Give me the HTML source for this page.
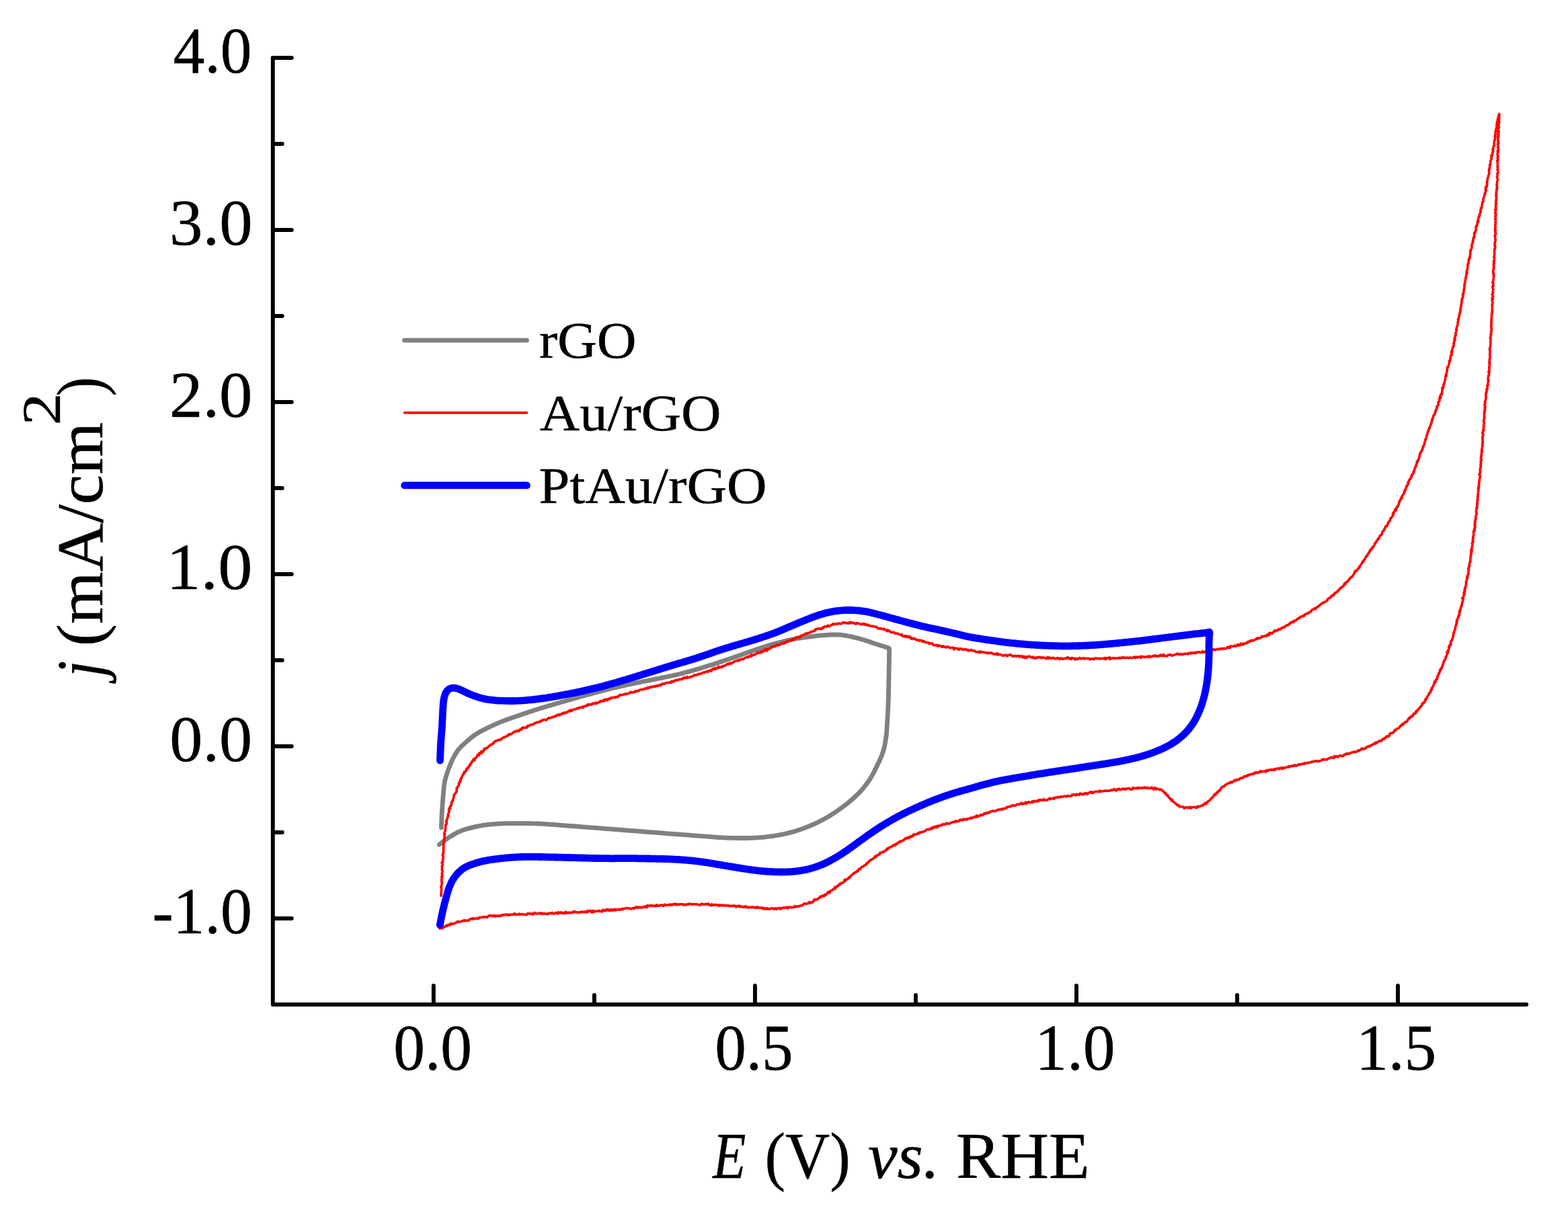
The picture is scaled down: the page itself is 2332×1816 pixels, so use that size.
<!DOCTYPE html>
<html lang="en"><head><meta charset="utf-8"><title>Cyclic voltammograms of rGO, Au/rGO and PtAu/rGO</title>
<style>html,body{margin:0;padding:0;background:#fff}body{width:2332px;height:1816px;overflow:hidden}svg{display:block}text{font-family:'Liberation Serif', 'DejaVu Serif', serif;fill:#000;stroke:#000;stroke-width:0.5;stroke-linejoin:round}</style>
</head><body>
<svg xmlns="http://www.w3.org/2000/svg" width="2332" height="1816" viewBox="0 0 2332 1816" role="img" aria-label="Cyclic voltammograms: current density j versus potential E">
<rect width="2332" height="1816" fill="#fff"/>
<g fill="none" stroke-linecap="round" stroke-linejoin="round">
<path d="M656.4 1230.9L656.5 1228.9L656.5 1226.9L656.6 1224.9L656.7 1222.9L656.7 1220.9L656.8 1218.9L656.9 1216.9L656.9 1214.9L657.0 1212.9L657.1 1210.9L657.3 1208.9L657.4 1206.9L657.5 1204.9L657.6 1202.9L657.8 1200.9L657.9 1198.9L658.1 1196.9L658.2 1194.9L658.4 1192.9L658.5 1190.9L658.7 1188.9L658.8 1186.9L659.0 1184.9L659.2 1182.9L659.4 1180.9L659.5 1178.9L659.7 1177.0L659.9 1175.0L660.0 1173.0L660.2 1171.0L660.5 1169.0L660.7 1167.0L661.0 1165.0L661.3 1163.0L661.7 1161.1L662.2 1159.1L662.7 1157.2L663.3 1155.2L663.8 1153.3L664.5 1151.4L665.1 1149.5L665.8 1147.6L666.4 1145.7L667.1 1143.9L667.8 1142.0L668.5 1140.1L669.3 1138.2L670.0 1136.4L670.8 1134.5L671.6 1132.7L672.5 1130.9L673.3 1129.1L674.2 1127.3L675.1 1125.5L676.1 1123.7L677.1 1122.0L678.1 1120.3L679.2 1118.6L680.3 1116.9L681.5 1115.3L682.8 1113.8L684.1 1112.3L685.5 1110.9L686.9 1109.4L688.4 1108.1L689.9 1106.7L691.3 1105.3L692.8 1104.0L694.3 1102.7L695.8 1101.4L697.4 1100.0L698.9 1098.8L700.4 1097.5L702.0 1096.2L703.6 1095.0L705.2 1093.8L706.9 1092.7L708.5 1091.6L710.2 1090.5L711.9 1089.5L713.7 1088.5L715.4 1087.5L717.2 1086.6L719.0 1085.7L720.8 1084.8L722.6 1083.9L724.4 1083.0L726.2 1082.1L728.0 1081.2L729.8 1080.3L731.6 1079.5L733.4 1078.6L735.2 1077.8L737.0 1077.0L738.9 1076.2L740.7 1075.4L742.6 1074.6L744.4 1073.9L746.3 1073.1L748.2 1072.4L750.0 1071.7L751.9 1071.0L753.8 1070.3L755.7 1069.6L757.6 1069.0L759.5 1068.3L761.4 1067.6L763.3 1067.0L765.1 1066.3L767.0 1065.7L768.9 1065.0L770.8 1064.4L772.7 1063.7L774.6 1063.1L776.5 1062.4L778.4 1061.8L780.3 1061.1L782.2 1060.5L784.1 1059.8L786.0 1059.2L787.9 1058.5L789.8 1057.9L791.7 1057.3L793.6 1056.7L795.5 1056.1L797.4 1055.5L799.3 1054.9L801.3 1054.3L803.2 1053.7L805.1 1053.1L807.0 1052.5L808.9 1051.9L810.9 1051.4L812.8 1050.8L814.7 1050.2L816.6 1049.6L818.5 1049.1L820.5 1048.5L822.4 1048.0L824.3 1047.4L826.2 1046.8L828.2 1046.3L830.1 1045.7L832.0 1045.2L833.9 1044.6L835.9 1044.0L837.8 1043.5L839.7 1042.9L841.6 1042.4L843.5 1041.8L845.5 1041.2L847.4 1040.7L849.3 1040.1L851.2 1039.6L853.2 1039.0L855.1 1038.5L857.0 1037.9L859.0 1037.4L860.9 1036.8L862.8 1036.3L864.8 1035.8L866.7 1035.2L868.6 1034.7L870.6 1034.2L872.5 1033.7L874.4 1033.1L876.4 1032.6L878.3 1032.1L880.2 1031.6L882.2 1031.0L884.1 1030.5L886.0 1030.0L888.0 1029.5L889.9 1028.9L891.8 1028.4L893.8 1027.9L895.7 1027.4L897.6 1026.9L899.6 1026.4L901.5 1025.9L903.5 1025.4L905.4 1024.9L907.4 1024.5L909.3 1024.0L911.3 1023.5L913.2 1023.0L915.2 1022.6L917.1 1022.1L919.1 1021.6L921.0 1021.2L923.0 1020.7L924.9 1020.3L926.9 1019.9L928.8 1019.4L930.8 1019.0L932.7 1018.6L934.7 1018.2L936.7 1017.8L938.6 1017.4L940.6 1017.0L942.6 1016.5L944.5 1016.1L946.5 1015.7L948.4 1015.3L950.4 1014.9L952.4 1014.5L954.3 1014.1L956.3 1013.7L958.3 1013.3L960.2 1012.9L962.2 1012.6L964.2 1012.2L966.1 1011.8L968.1 1011.4L970.1 1011.0L972.0 1010.6L974.0 1010.2L975.9 1009.8L977.9 1009.4L979.9 1009.0L981.8 1008.6L983.8 1008.2L985.8 1007.8L987.7 1007.4L989.7 1007.0L991.7 1006.6L993.6 1006.2L995.6 1005.8L997.5 1005.4L999.5 1005.0L1001.5 1004.6L1003.4 1004.1L1005.4 1003.7L1007.3 1003.3L1009.3 1002.8L1011.2 1002.3L1013.2 1001.9L1015.1 1001.4L1017.1 1000.9L1019.0 1000.3L1020.9 999.8L1022.9 999.3L1024.8 998.8L1026.7 998.2L1028.7 997.7L1030.6 997.1L1032.5 996.6L1034.4 996.0L1036.4 995.5L1038.3 994.9L1040.2 994.3L1042.1 993.8L1044.1 993.2L1046.0 992.6L1047.9 992.0L1049.8 991.4L1051.7 990.8L1053.6 990.2L1055.5 989.6L1057.4 989.0L1059.4 988.4L1061.3 987.8L1063.2 987.2L1065.1 986.5L1067.0 985.9L1068.9 985.3L1070.8 984.7L1072.7 984.0L1074.6 983.4L1076.5 982.8L1078.4 982.1L1080.3 981.5L1082.2 980.9L1084.1 980.2L1086.0 979.6L1087.9 978.9L1089.8 978.3L1091.7 977.6L1093.6 977.0L1095.5 976.3L1097.4 975.7L1099.2 975.0L1101.1 974.3L1103.0 973.7L1104.9 973.0L1106.8 972.3L1108.7 971.6L1110.6 971.0L1112.5 970.3L1114.4 969.7L1116.3 969.0L1118.2 968.3L1120.0 967.7L1121.9 967.0L1123.8 966.4L1125.7 965.7L1127.6 965.1L1129.5 964.4L1131.4 963.8L1133.3 963.2L1135.2 962.5L1137.1 961.9L1139.0 961.3L1141.0 960.7L1142.9 960.1L1144.8 959.5L1146.7 958.9L1148.6 958.4L1150.5 957.8L1152.5 957.2L1154.4 956.7L1156.3 956.2L1158.3 955.7L1160.2 955.2L1162.2 954.7L1164.1 954.2L1166.0 953.7L1168.0 953.3L1170.0 952.8L1171.9 952.4L1173.9 952.0L1175.8 951.6L1177.8 951.2L1179.8 950.8L1181.7 950.4L1183.7 950.1L1185.7 949.7L1187.7 949.4L1189.6 949.1L1191.6 948.7L1193.6 948.4L1195.6 948.2L1197.6 947.9L1199.5 947.6L1201.5 947.3L1203.5 947.1L1205.5 946.8L1207.5 946.6L1209.5 946.3L1211.5 946.1L1213.5 945.8L1215.5 945.6L1217.4 945.4L1219.4 945.2L1221.4 945.0L1223.4 944.9L1225.4 944.7L1227.4 944.6L1229.4 944.5L1231.4 944.3L1233.4 944.2L1235.4 944.1L1237.4 944.0L1239.4 944.0L1241.4 943.9L1243.5 944.0L1245.5 944.0L1247.5 944.1L1249.5 944.2L1251.4 944.4L1253.4 944.7L1255.4 944.9L1257.4 945.2L1259.4 945.6L1261.4 946.0L1263.3 946.3L1265.3 946.8L1267.2 947.2L1269.2 947.6L1271.1 948.1L1273.1 948.5L1275.0 949.0L1277.0 949.6L1278.9 950.1L1280.8 950.7L1282.7 951.2L1284.7 951.8L1286.6 952.4L1288.5 953.0L1290.4 953.6L1292.3 954.2L1294.2 954.8L1296.1 955.5L1298.0 956.2L1299.9 956.9L1301.8 957.5L1303.7 958.1L1305.6 958.7L1307.5 959.3L1309.4 959.9L1311.3 960.5L1313.3 961.1L1315.2 961.7L1317.1 962.3L1319.0 962.9L1320.9 963.5L1322.5 964.4L1322.5 966.4L1322.6 968.4L1322.6 970.4L1322.5 972.4L1322.5 974.4L1322.5 976.4L1322.4 978.4L1322.4 980.4L1322.4 982.4L1322.4 984.4L1322.3 986.4L1322.3 988.4L1322.3 990.4L1322.2 992.4L1322.2 994.4L1322.1 996.5L1322.1 998.5L1322.1 1000.5L1322.0 1002.5L1322.0 1004.5L1322.0 1006.5L1321.9 1008.5L1321.9 1010.5L1321.8 1012.5L1321.8 1014.5L1321.8 1016.5L1321.7 1018.5L1321.7 1020.5L1321.7 1022.5L1321.6 1024.5L1321.6 1026.5L1321.5 1028.5L1321.5 1030.5L1321.4 1032.5L1321.4 1034.5L1321.3 1036.5L1321.3 1038.5L1321.2 1040.5L1321.1 1042.5L1321.1 1044.5L1321.0 1046.5L1320.9 1048.5L1320.8 1050.5L1320.8 1052.5L1320.7 1054.5L1320.6 1056.6L1320.5 1058.6L1320.4 1060.6L1320.2 1062.6L1320.1 1064.6L1320.0 1066.6L1319.9 1068.6L1319.8 1070.6L1319.6 1072.6L1319.5 1074.6L1319.4 1076.6L1319.3 1078.6L1319.2 1080.6L1319.0 1082.6L1318.9 1084.6L1318.8 1086.6L1318.7 1088.6L1318.5 1090.6L1318.3 1092.5L1318.1 1094.5L1317.8 1096.5L1317.5 1098.5L1317.2 1100.5L1316.9 1102.5L1316.5 1104.4L1316.2 1106.4L1315.8 1108.4L1315.4 1110.3L1314.9 1112.3L1314.4 1114.2L1313.9 1116.2L1313.3 1118.1L1312.7 1120.0L1312.0 1121.9L1311.3 1123.7L1310.5 1125.6L1309.7 1127.4L1308.9 1129.3L1308.1 1131.1L1307.3 1132.9L1306.4 1134.7L1305.5 1136.5L1304.7 1138.3L1303.8 1140.1L1302.9 1142.0L1302.0 1143.8L1301.2 1145.6L1300.3 1147.3L1299.3 1149.1L1298.4 1150.9L1297.4 1152.7L1296.5 1154.4L1295.4 1156.1L1294.4 1157.8L1293.3 1159.5L1292.2 1161.2L1291.1 1162.8L1289.9 1164.5L1288.7 1166.1L1287.5 1167.7L1286.3 1169.3L1285.0 1170.8L1283.7 1172.4L1282.4 1173.9L1281.1 1175.4L1279.8 1176.9L1278.4 1178.4L1277.0 1179.8L1275.6 1181.2L1274.2 1182.6L1272.7 1184.0L1271.3 1185.4L1269.8 1186.7L1268.3 1188.1L1266.8 1189.4L1265.3 1190.7L1263.7 1192.0L1262.2 1193.3L1260.7 1194.6L1259.1 1195.8L1257.5 1197.0L1255.9 1198.3L1254.3 1199.5L1252.7 1200.7L1251.1 1201.8L1249.4 1203.0L1247.8 1204.2L1246.2 1205.3L1244.5 1206.4L1242.9 1207.6L1241.2 1208.7L1239.5 1209.8L1237.9 1210.9L1236.2 1212.0L1234.5 1213.0L1232.8 1214.1L1231.1 1215.1L1229.3 1216.2L1227.6 1217.1L1225.8 1218.1L1224.1 1219.1L1222.3 1220.0L1220.5 1220.9L1218.7 1221.8L1216.9 1222.7L1215.1 1223.6L1213.3 1224.4L1211.5 1225.3L1209.7 1226.1L1207.8 1226.9L1206.0 1227.7L1204.1 1228.5L1202.3 1229.2L1200.4 1230.0L1198.6 1230.7L1196.7 1231.4L1194.8 1232.1L1192.9 1232.8L1191.0 1233.5L1189.1 1234.1L1187.2 1234.7L1185.3 1235.3L1183.4 1235.9L1181.5 1236.5L1179.6 1237.1L1177.6 1237.6L1175.7 1238.1L1173.8 1238.6L1171.8 1239.1L1169.9 1239.6L1167.9 1240.0L1166.0 1240.5L1164.0 1240.9L1162.0 1241.3L1160.1 1241.7L1158.1 1242.0L1156.1 1242.4L1154.1 1242.7L1152.2 1243.0L1150.2 1243.3L1148.2 1243.6L1146.2 1243.9L1144.2 1244.2L1142.2 1244.4L1140.2 1244.6L1138.3 1244.9L1136.3 1245.1L1134.3 1245.3L1132.3 1245.4L1130.3 1245.6L1128.3 1245.7L1126.3 1245.9L1124.3 1246.0L1122.3 1246.1L1120.3 1246.2L1118.3 1246.3L1116.3 1246.4L1114.3 1246.4L1112.3 1246.5L1110.3 1246.5L1108.3 1246.5L1106.2 1246.5L1104.2 1246.5L1102.2 1246.5L1100.2 1246.5L1098.2 1246.5L1096.2 1246.4L1094.2 1246.4L1092.2 1246.4L1090.2 1246.4L1088.2 1246.3L1086.2 1246.3L1084.2 1246.2L1082.2 1246.2L1080.2 1246.1L1078.2 1246.0L1076.2 1245.9L1074.2 1245.8L1072.2 1245.7L1070.2 1245.6L1068.2 1245.5L1066.2 1245.3L1064.2 1245.2L1062.2 1245.0L1060.2 1244.9L1058.2 1244.7L1056.2 1244.5L1054.2 1244.4L1052.2 1244.2L1050.2 1244.1L1048.2 1243.9L1046.2 1243.8L1044.2 1243.6L1042.2 1243.4L1040.2 1243.3L1038.2 1243.1L1036.2 1243.0L1034.2 1242.8L1032.2 1242.6L1030.2 1242.5L1028.2 1242.3L1026.2 1242.2L1024.2 1242.0L1022.2 1241.9L1020.2 1241.7L1018.2 1241.6L1016.2 1241.5L1014.2 1241.3L1012.2 1241.2L1010.2 1241.0L1008.2 1240.9L1006.2 1240.7L1004.3 1240.6L1002.3 1240.4L1000.3 1240.3L998.3 1240.1L996.3 1240.0L994.3 1239.8L992.3 1239.6L990.3 1239.5L988.3 1239.3L986.3 1239.2L984.3 1239.0L982.3 1238.9L980.3 1238.7L978.3 1238.5L976.3 1238.4L974.3 1238.2L972.3 1238.1L970.3 1237.9L968.3 1237.8L966.3 1237.6L964.3 1237.5L962.3 1237.3L960.3 1237.1L958.3 1237.0L956.3 1236.8L954.3 1236.7L952.3 1236.5L950.3 1236.4L948.3 1236.2L946.3 1236.0L944.3 1235.9L942.3 1235.7L940.3 1235.6L938.3 1235.4L936.3 1235.3L934.3 1235.1L932.3 1235.0L930.3 1234.8L928.3 1234.6L926.3 1234.5L924.3 1234.3L922.3 1234.2L920.3 1234.0L918.3 1233.9L916.3 1233.7L914.3 1233.6L912.3 1233.4L910.3 1233.2L908.3 1233.1L906.4 1232.9L904.4 1232.8L902.4 1232.6L900.4 1232.5L898.4 1232.3L896.4 1232.2L894.4 1232.0L892.4 1231.8L890.4 1231.7L888.4 1231.5L886.4 1231.4L884.4 1231.2L882.4 1231.1L880.4 1230.9L878.4 1230.8L876.4 1230.6L874.4 1230.4L872.4 1230.3L870.4 1230.1L868.4 1230.0L866.4 1229.8L864.4 1229.7L862.4 1229.5L860.4 1229.4L858.4 1229.2L856.4 1229.0L854.4 1228.9L852.4 1228.7L850.4 1228.6L848.4 1228.4L846.4 1228.3L844.4 1228.1L842.4 1228.0L840.4 1227.8L838.4 1227.6L836.4 1227.5L834.4 1227.3L832.4 1227.2L830.4 1227.0L828.4 1226.9L826.4 1226.7L824.4 1226.6L822.4 1226.4L820.4 1226.3L818.4 1226.1L816.4 1226.0L814.4 1225.8L812.4 1225.7L810.4 1225.6L808.4 1225.4L806.4 1225.3L804.4 1225.2L802.4 1225.1L800.4 1225.0L798.4 1225.0L796.4 1224.9L794.4 1224.8L792.4 1224.8L790.4 1224.8L788.4 1224.7L786.4 1224.7L784.4 1224.6L782.4 1224.6L780.4 1224.6L778.4 1224.6L776.4 1224.6L774.4 1224.6L772.4 1224.6L770.4 1224.6L768.4 1224.6L766.4 1224.6L764.4 1224.6L762.4 1224.6L760.4 1224.6L758.4 1224.7L756.3 1224.7L754.3 1224.7L752.3 1224.7L750.3 1224.8L748.3 1224.8L746.3 1224.9L744.3 1225.0L742.3 1225.1L740.3 1225.2L738.3 1225.3L736.3 1225.5L734.3 1225.6L732.3 1225.8L730.3 1226.0L728.3 1226.2L726.4 1226.4L724.4 1226.6L722.4 1226.9L720.4 1227.1L718.4 1227.4L716.4 1227.8L714.5 1228.1L712.5 1228.5L710.5 1228.9L708.6 1229.3L706.6 1229.7L704.6 1230.1L702.7 1230.6L700.7 1231.1L698.8 1231.6L696.9 1232.1L694.9 1232.7L693.0 1233.2L691.1 1233.8L689.2 1234.4L687.3 1235.1L685.4 1235.8L683.6 1236.6L681.7 1237.4L679.9 1238.2L678.2 1239.2L676.4 1240.2L674.7 1241.2L673.0 1242.2L671.3 1243.3L669.6 1244.4L667.9 1245.4L666.2 1246.5L664.6 1247.7L662.9 1248.8L661.3 1250.0L659.7 1251.2L658.1 1252.5L656.6 1253.7L655.0 1254.9L653.4 1256.1" stroke="#808080" stroke-width="6.8"/>
<path d="M655.9 1332.2L656.2 1330.8L655.9 1329.5L656.0 1327.7L656.4 1327.8L656.3 1326.5L656.4 1324.7L656.7 1322.0L656.6 1322.2L655.8 1319.4L656.4 1318.6L656.6 1318.2L656.4 1317.0L656.9 1315.6L657.5 1313.6L657.4 1313.1L656.6 1311.0L656.9 1309.9L657.1 1309.3L656.7 1307.2L657.7 1305.9L657.3 1304.4L656.7 1304.0L657.9 1302.4L657.3 1299.6L657.1 1299.7L657.5 1298.8L657.9 1296.1L658.1 1296.3L657.9 1295.6L657.2 1293.3L657.6 1292.4L657.4 1290.3L657.7 1288.7L657.2 1289.0L658.2 1285.7L658.4 1286.5L657.1 1282.8L657.9 1283.1L658.7 1280.8L658.4 1281.0L658.6 1279.1L658.7 1278.8L658.8 1276.7L659.2 1274.0L658.9 1274.4L658.5 1271.1L658.1 1271.8L659.3 1269.7L659.7 1267.7L659.0 1267.7L659.4 1266.2L659.7 1264.8L659.1 1262.9L659.4 1262.8L659.9 1260.2L659.5 1260.5L659.7 1257.2L659.8 1256.8L659.6 1256.6L659.7 1255.2L660.5 1252.5L660.7 1252.5L660.5 1250.7L660.7 1249.2L660.7 1247.7L660.7 1246.9L661.0 1245.8L661.1 1245.3L660.9 1242.3L661.6 1241.3L661.5 1239.8L660.4 1240.1L661.7 1236.7L661.9 1236.5L662.3 1234.6L662.0 1233.8L662.5 1233.9L662.6 1230.7L662.8 1229.6L662.8 1226.9L662.8 1227.9L663.9 1225.9L664.4 1225.2L663.8 1222.2L664.5 1221.9L663.4 1221.6L664.1 1220.3L664.4 1218.7L665.8 1217.1L665.6 1215.6L665.9 1215.0L666.8 1213.1L666.3 1212.7L666.2 1212.2L666.9 1210.0L667.6 1208.2L667.9 1207.0L667.4 1204.5L668.0 1204.8L668.1 1202.4L669.4 1202.8L669.1 1201.7L669.4 1199.4L670.9 1198.7L671.3 1196.3L671.0 1196.4L672.1 1193.1L671.7 1193.1L672.5 1192.3L672.4 1191.8L673.8 1190.3L673.6 1189.3L674.6 1186.6L674.6 1186.0L674.9 1185.7L675.4 1181.9L676.4 1181.0L676.3 1181.3L677.4 1179.8L678.1 1178.7L678.4 1177.4L679.1 1177.3L679.3 1174.5L679.0 1172.5L680.4 1171.2L680.4 1170.5L680.9 1170.0L681.4 1168.6L681.8 1169.0L682.7 1166.9L682.3 1165.2L683.8 1163.8L683.6 1161.8L684.7 1162.5L685.2 1160.6L685.0 1159.5L685.8 1157.2L686.4 1157.7L686.9 1155.3L687.7 1153.7L688.6 1152.8L689.2 1150.9L688.8 1150.9L690.2 1150.7L690.6 1147.5L691.4 1148.2L692.6 1147.4L693.1 1146.2L693.9 1145.6L693.5 1143.9L695.7 1143.1L695.6 1141.2L695.8 1141.7L698.4 1139.6L698.4 1137.6L698.8 1138.5L700.0 1136.5L700.4 1134.5L701.6 1134.3L702.0 1133.0L702.7 1131.3L703.7 1131.7L704.2 1129.4L705.9 1130.6L705.2 1128.5L707.3 1127.6L708.2 1127.3L709.1 1125.2L710.2 1122.9L710.4 1123.6L712.4 1123.4L712.3 1120.6L713.6 1120.9L714.1 1119.6L716.0 1120.5L716.0 1117.3L717.9 1118.5L718.9 1117.8L719.7 1115.1L720.3 1113.4L721.8 1114.1L722.6 1112.8L723.8 1112.8L724.8 1112.2L726.1 1110.8L726.5 1110.2L727.9 1109.0L729.0 1108.6L730.1 1108.0L730.5 1107.1L732.6 1106.8L733.1 1106.1L733.9 1105.4L735.4 1103.0L736.8 1103.0L736.6 1102.2L739.4 1101.5L739.2 1101.3L741.2 1100.4L742.1 1100.6L743.5 1100.7L744.6 1099.0L745.9 1099.6L746.2 1098.5L748.1 1097.1L749.4 1096.4L750.5 1096.4L752.3 1095.3L752.4 1095.7L754.7 1094.4L755.2 1093.5L756.0 1093.9L757.2 1091.8L758.8 1092.3L759.5 1092.1L760.9 1091.6L761.9 1090.6L763.3 1089.7L764.0 1088.6L764.8 1088.8L765.8 1088.0L768.0 1087.3L769.0 1087.7L769.6 1086.6L771.6 1087.5L772.2 1086.5L773.0 1085.1L775.4 1085.3L776.1 1082.9L776.6 1084.1L778.1 1081.9L779.2 1082.2L781.1 1082.2L782.4 1082.1L783.8 1082.2L784.3 1079.7L785.3 1079.4L787.0 1079.6L787.5 1079.5L789.3 1077.8L790.4 1078.0L791.4 1077.6L793.1 1077.7L793.9 1076.6L794.3 1076.1L796.6 1075.0L797.9 1074.2L798.4 1074.9L800.1 1074.1L801.7 1074.1L802.3 1073.3L803.8 1072.8L805.2 1072.9L805.7 1071.4L807.2 1071.2L808.7 1070.2L810.0 1070.2L811.0 1070.5L812.2 1071.2L813.6 1069.9L813.8 1069.5L816.1 1067.8L818.2 1068.3L819.0 1067.6L820.1 1067.5L820.8 1066.9L821.7 1066.4L822.9 1066.5L825.5 1065.4L825.8 1064.6L827.1 1065.2L828.4 1063.3L829.8 1063.9L831.5 1062.5L832.0 1063.8L833.0 1062.4L834.1 1062.8L835.5 1061.8L837.2 1060.5L838.1 1061.5L839.7 1059.7L840.7 1059.7L842.3 1060.4L844.0 1058.5L844.6 1058.5L845.5 1057.6L847.5 1056.5L847.5 1058.2L848.6 1055.8L850.3 1057.3L851.6 1056.0L852.5 1055.6L853.6 1055.3L855.6 1054.8L856.6 1054.8L858.0 1053.5L859.8 1053.4L860.3 1053.9L861.3 1052.6L862.7 1051.9L864.3 1052.4L866.2 1052.2L866.6 1050.9L867.1 1052.5L869.2 1050.3L870.5 1050.3L871.7 1049.7L873.1 1049.5L873.7 1047.8L874.9 1048.7L876.8 1047.6L878.1 1047.5L879.2 1048.1L880.2 1047.6L881.5 1045.9L882.6 1046.8L884.3 1046.0L885.5 1045.1L886.3 1046.7L887.7 1045.1L889.1 1045.7L890.0 1044.9L891.5 1043.9L893.4 1042.3L893.3 1043.8L895.2 1043.3L896.6 1042.7L897.6 1041.0L898.7 1042.7L899.7 1040.5L901.6 1040.0L902.9 1041.7L904.9 1040.3L904.9 1039.4L906.7 1039.7L907.2 1038.3L909.0 1038.8L910.1 1037.3L911.6 1037.5L912.6 1037.4L914.4 1036.9L915.0 1037.7L916.1 1037.0L918.0 1036.1L918.7 1036.7L920.2 1035.2L921.4 1033.8L922.8 1034.1L923.1 1033.4L925.3 1033.8L926.8 1033.0L927.4 1032.9L928.2 1033.0L930.1 1031.9L931.3 1032.6L932.4 1031.8L934.6 1031.5L936.1 1030.4L936.4 1030.1L938.1 1030.3L938.0 1029.0L940.5 1029.9L942.5 1029.6L942.8 1029.0L944.1 1029.1L944.6 1029.3L945.4 1027.5L947.5 1028.0L949.8 1027.8L950.1 1026.8L951.1 1026.1L953.0 1025.7L954.0 1025.8L955.6 1025.3L956.4 1025.5L957.7 1025.3L959.6 1023.6L959.8 1024.4L961.7 1024.5L963.4 1022.3L964.4 1023.3L965.2 1022.9L966.9 1021.4L967.7 1022.1L969.1 1022.0L970.1 1021.9L970.7 1021.1L973.1 1020.5L973.9 1021.4L976.0 1020.0L976.9 1019.5L977.9 1020.6L978.8 1020.0L980.3 1018.9L982.1 1018.5L982.6 1019.6L984.3 1017.3L985.6 1016.7L986.5 1017.5L987.2 1017.1L988.5 1016.9L990.2 1015.6L992.0 1015.5L992.8 1015.5L994.8 1015.5L995.6 1014.7L996.8 1015.3L999.0 1013.2L998.4 1015.3L1000.6 1013.4L1002.0 1013.7L1002.5 1012.5L1004.7 1012.5L1005.1 1011.3L1005.9 1011.7L1007.8 1011.2L1009.0 1011.4L1010.4 1010.1L1011.5 1010.3L1013.4 1010.1L1015.0 1010.5L1015.4 1008.8L1017.6 1007.5L1018.0 1008.2L1018.7 1008.7L1020.6 1008.3L1021.9 1006.4L1022.3 1008.2L1024.4 1007.5L1025.8 1007.0L1026.7 1007.2L1027.9 1006.5L1029.0 1006.1L1031.3 1005.1L1031.8 1005.1L1032.7 1003.7L1034.7 1004.2L1035.8 1004.0L1037.4 1003.3L1037.8 1002.7L1039.3 1003.2L1040.3 1002.0L1042.1 1001.7L1042.5 1001.7L1044.4 1001.4L1045.8 1000.0L1046.6 1000.1L1048.6 1000.4L1049.4 999.0L1051.4 998.5L1052.2 998.3L1053.3 997.8L1053.1 999.4L1055.6 997.1L1056.4 996.9L1057.9 998.1L1059.5 995.0L1060.8 994.5L1061.6 994.9L1062.8 995.7L1063.3 993.5L1065.5 994.8L1066.8 993.0L1068.0 993.5L1068.8 991.2L1070.5 992.9L1070.3 992.5L1072.8 991.6L1073.4 992.6L1075.1 990.4L1076.1 990.8L1077.2 990.5L1078.5 989.5L1079.7 989.0L1081.7 987.3L1082.2 988.2L1084.1 987.7L1084.8 986.4L1086.3 987.0L1086.4 986.0L1088.7 986.7L1089.7 985.4L1090.8 985.1L1091.9 983.8L1093.2 983.6L1094.9 982.8L1096.2 982.2L1097.3 982.0L1098.4 983.2L1099.6 981.3L1100.0 981.5L1102.1 980.5L1103.2 980.1L1104.8 980.5L1105.9 980.2L1106.9 978.9L1108.0 978.5L1108.6 978.1L1110.5 977.5L1111.7 976.6L1112.9 977.2L1113.1 977.8L1114.6 975.7L1117.7 976.1L1117.9 973.4L1118.9 974.9L1119.3 974.4L1121.6 974.1L1122.4 973.1L1123.7 973.1L1124.9 972.3L1126.3 970.1L1127.8 971.3L1128.7 970.1L1130.0 970.7L1132.0 970.6L1131.6 968.7L1134.2 969.4L1135.1 969.0L1135.7 967.4L1136.8 968.0L1138.0 965.7L1140.4 968.0L1140.5 965.5L1141.7 965.6L1143.2 965.9L1145.0 963.8L1145.8 963.6L1146.7 963.6L1147.8 963.3L1148.4 961.3L1150.2 961.2L1151.7 961.6L1153.0 961.5L1153.8 960.1L1155.3 958.7L1156.8 960.0L1157.7 959.1L1159.0 959.4L1160.4 958.8L1161.9 957.9L1162.4 956.9L1163.5 956.2L1165.7 957.4L1166.4 955.8L1167.7 956.2L1168.1 955.7L1170.0 953.9L1171.1 954.9L1172.1 952.8L1173.1 952.5L1174.4 953.5L1176.8 952.0L1177.2 952.3L1178.5 950.6L1179.7 951.7L1180.7 950.9L1181.8 949.9L1183.7 949.4L1184.3 947.6L1185.3 948.3L1187.1 947.4L1188.2 948.6L1188.5 946.9L1190.4 947.6L1191.1 945.7L1192.3 945.2L1194.2 944.8L1195.3 944.3L1197.0 943.2L1196.9 942.9L1198.5 942.7L1199.9 941.7L1200.8 942.1L1203.1 941.3L1203.6 941.4L1204.8 940.6L1206.4 940.0L1206.3 939.5L1208.1 939.0L1209.5 939.0L1211.9 938.2L1211.7 936.9L1212.4 936.2L1214.8 935.4L1215.0 935.9L1217.3 934.8L1218.1 934.9L1220.0 935.2L1221.1 935.8L1222.0 934.1L1223.7 934.8L1224.5 932.9L1225.6 932.9L1226.2 931.9L1227.4 931.4L1229.5 932.3L1231.1 930.2L1230.9 931.2L1233.3 931.5L1233.7 931.4L1235.7 930.0L1236.8 929.4L1237.4 929.7L1238.7 927.9L1240.3 928.1L1242.0 928.5L1242.9 928.0L1244.8 927.5L1245.8 928.1L1247.7 927.2L1248.6 926.8L1249.5 927.9L1250.4 927.5L1252.3 927.5L1253.7 925.6L1255.3 926.0L1256.0 926.1L1257.2 926.7L1258.4 926.6L1260.0 926.9L1260.2 926.5L1262.6 927.2L1263.9 925.2L1265.6 926.8L1267.1 925.8L1268.8 926.5L1269.3 926.6L1269.9 926.6L1272.0 927.7L1273.3 928.2L1273.5 926.8L1275.2 926.9L1277.1 927.0L1278.0 927.9L1279.3 928.0L1281.0 928.2L1281.7 928.9L1283.9 927.4L1285.0 928.7L1285.7 927.7L1286.5 929.1L1288.7 928.9L1290.3 930.3L1290.4 929.2L1292.6 930.4L1293.0 930.4L1295.1 931.1L1295.8 931.2L1297.6 931.4L1297.8 931.1L1300.0 932.0L1301.5 932.1L1302.3 932.0L1303.9 932.5L1304.8 934.2L1306.8 934.9L1307.6 934.4L1308.5 935.4L1309.4 934.5L1311.6 935.3L1312.5 935.8L1313.6 935.7L1315.2 935.3L1315.5 936.4L1316.9 936.6L1318.9 938.1L1320.1 937.0L1320.7 939.0L1321.8 937.7L1323.5 938.8L1323.8 939.3L1325.2 940.2L1326.6 941.0L1328.0 940.3L1330.1 940.8L1331.1 942.2L1331.4 942.2L1333.1 942.0L1334.8 942.0L1335.5 942.6L1336.2 942.8L1338.8 944.3L1339.1 944.4L1340.8 943.1L1342.1 945.9L1343.9 946.1L1344.3 946.6L1346.1 946.9L1346.8 945.5L1348.2 945.9L1349.0 947.7L1351.3 946.2L1352.6 948.3L1353.7 947.5L1355.3 950.2L1355.8 949.0L1357.4 949.4L1358.2 950.6L1359.8 949.3L1361.0 950.3L1362.6 951.1L1363.0 952.1L1365.2 951.9L1365.9 951.6L1367.5 953.2L1367.7 953.1L1369.6 952.2L1371.8 953.7L1372.5 953.2L1372.5 954.7L1374.5 953.9L1375.7 954.5L1376.6 955.5L1378.0 955.8L1379.7 955.5L1380.9 955.8L1382.0 957.6L1383.6 956.8L1385.0 956.9L1386.0 956.6L1386.7 957.5L1387.9 959.4L1389.8 959.7L1390.4 959.8L1392.7 959.9L1393.3 959.3L1394.7 961.2L1395.6 959.7L1397.3 960.6L1399.1 960.7L1399.9 960.7L1400.5 962.2L1403.0 962.2L1403.0 960.8L1404.0 961.3L1405.3 962.6L1407.9 962.9L1408.5 961.7L1410.2 961.7L1411.0 962.8L1412.7 963.5L1413.7 963.5L1415.0 963.5L1416.3 963.3L1417.4 963.0L1418.9 965.8L1420.2 963.8L1420.7 964.2L1423.0 964.5L1424.0 965.4L1424.8 964.7L1426.7 966.4L1427.0 965.0L1430.2 964.8L1430.4 965.2L1431.7 966.3L1432.5 966.1L1435.0 965.7L1436.0 966.1L1436.8 965.6L1438.6 967.2L1439.7 966.4L1440.5 967.6L1441.7 967.9L1443.3 967.1L1444.6 966.3L1445.3 967.3L1447.5 967.9L1449.0 968.1L1449.2 967.8L1451.3 969.8L1452.0 969.6L1453.8 969.6L1455.0 969.7L1456.0 970.3L1456.9 968.9L1458.5 970.6L1459.7 969.2L1460.9 969.8L1462.4 970.1L1463.6 970.1L1465.1 970.7L1466.7 970.9L1466.9 971.2L1468.8 970.8L1469.8 971.8L1471.6 971.0L1473.4 971.4L1474.7 971.5L1474.8 970.9L1477.1 973.0L1478.2 972.6L1479.0 972.8L1480.5 973.3L1482.1 973.5L1482.8 971.5L1484.6 973.9L1486.0 973.0L1487.0 973.1L1488.6 973.6L1489.8 974.8L1491.8 975.2L1492.8 975.2L1493.7 974.2L1494.7 974.2L1496.0 974.4L1497.8 975.7L1498.0 974.4L1500.0 974.8L1500.9 974.2L1503.0 973.6L1505.1 975.2L1505.2 975.4L1506.7 976.5L1507.7 975.7L1509.8 975.3L1511.2 976.6L1511.8 975.7L1513.5 975.5L1514.6 975.2L1516.3 977.1L1517.4 975.8L1517.9 976.0L1520.0 975.7L1520.6 977.9L1522.0 976.3L1523.9 978.5L1524.0 976.7L1526.5 976.7L1527.2 978.5L1528.4 976.8L1530.3 976.1L1531.7 976.7L1532.0 976.3L1533.5 977.8L1535.1 978.2L1536.7 976.9L1536.9 978.4L1539.2 979.2L1539.5 978.5L1541.5 977.5L1542.3 978.8L1543.4 977.5L1545.7 978.0L1546.6 977.1L1548.8 978.7L1549.3 978.8L1550.3 977.6L1552.1 978.0L1554.0 978.5L1554.2 978.8L1556.3 979.7L1556.9 978.8L1558.1 977.4L1559.5 979.4L1561.2 977.9L1562.7 979.0L1564.3 979.4L1565.4 978.4L1566.6 978.3L1567.7 979.1L1568.9 979.7L1570.6 979.9L1571.3 979.2L1572.6 978.6L1574.1 979.0L1575.7 980.7L1576.4 979.8L1577.9 978.8L1578.9 979.4L1580.4 980.4L1580.9 980.1L1583.3 979.3L1584.8 979.5L1585.9 979.6L1586.8 978.1L1588.7 977.9L1589.6 979.6L1590.8 978.9L1593.1 980.7L1594.2 979.4L1594.1 978.4L1595.9 979.1L1597.6 979.1L1598.6 981.0L1600.2 979.5L1601.8 979.5L1602.2 980.7L1603.9 979.6L1604.7 979.8L1605.7 978.3L1608.0 979.9L1608.2 979.6L1610.2 979.2L1611.5 978.5L1613.4 980.0L1614.7 979.5L1615.8 979.1L1617.3 979.5L1618.3 979.4L1619.4 979.4L1621.2 981.0L1623.2 979.7L1622.9 980.4L1625.2 979.9L1626.7 980.7L1627.0 979.9L1628.9 978.8L1629.6 979.7L1631.2 979.1L1632.8 979.4L1633.4 979.1L1635.9 980.1L1637.0 979.2L1638.1 979.5L1638.8 979.5L1640.9 979.6L1642.6 978.5L1643.8 980.6L1644.7 980.5L1645.4 978.8L1647.0 978.5L1648.5 979.0L1650.5 977.6L1650.8 980.5L1652.4 979.4L1653.4 979.1L1654.4 978.8L1656.0 978.9L1657.0 979.0L1658.7 978.8L1659.5 979.1L1661.7 979.0L1662.4 979.0L1663.8 978.2L1665.8 979.1L1666.2 978.4L1667.8 978.7L1668.7 977.8L1670.6 978.3L1671.2 977.5L1672.4 978.6L1674.4 978.3L1675.1 978.1L1676.7 978.1L1677.8 978.3L1678.7 978.8L1680.8 977.8L1681.8 978.6L1683.1 978.2L1685.4 978.3L1686.1 977.5L1687.7 977.0L1688.6 978.5L1690.0 976.8L1691.6 978.3L1691.7 978.0L1694.3 976.9L1695.5 976.4L1696.7 978.5L1697.5 977.9L1698.9 976.2L1700.2 976.9L1701.5 977.4L1703.0 977.0L1704.9 976.8L1705.5 977.0L1706.5 976.5L1708.1 977.5L1709.1 975.7L1710.4 976.3L1711.4 977.0L1713.3 976.5L1714.5 975.3L1716.0 975.9L1717.2 975.6L1718.0 974.6L1720.1 976.3L1720.8 975.6L1721.4 976.3L1723.9 974.9L1724.5 975.8L1726.8 973.9L1727.1 975.3L1729.2 975.1L1730.6 973.5L1730.5 975.4L1731.9 975.4L1734.1 975.5L1735.0 976.2L1737.0 974.5L1737.6 974.0L1739.1 974.1L1740.7 973.5L1741.8 974.6L1742.9 975.3L1744.1 974.9L1744.8 974.4L1746.9 973.9L1748.0 973.3L1749.2 973.3L1750.6 972.0L1751.9 973.0L1753.4 972.5L1754.6 973.7L1756.6 972.7L1757.7 973.7L1758.5 973.7L1760.4 972.7L1761.2 972.3L1762.7 972.8L1764.2 972.2L1765.4 972.2L1766.7 972.9L1767.2 972.6L1768.7 971.0L1770.9 972.1L1771.7 970.8L1772.6 970.9L1774.4 971.2L1775.9 971.4L1777.1 970.4L1778.1 971.6L1779.1 971.1L1780.4 969.8L1783.0 970.0L1783.9 969.9L1784.6 970.3L1785.4 970.5L1787.2 970.4L1788.6 968.5L1789.8 969.8L1790.8 970.3L1792.5 969.4L1794.0 968.2L1794.2 967.7L1795.6 968.9L1796.7 968.2L1798.2 968.2L1799.3 968.2L1801.1 968.0L1802.5 967.6L1803.2 967.4L1805.1 965.6L1806.2 966.2L1806.8 967.0L1808.7 965.9L1810.3 965.5L1811.1 965.9L1813.1 965.1L1814.3 965.1L1814.5 965.7L1816.6 964.4L1818.2 965.1L1819.6 965.2L1820.4 964.2L1821.6 964.7L1822.3 964.7L1824.2 964.2L1826.0 962.1L1826.8 963.4L1827.9 962.2L1829.0 963.7L1830.3 960.9L1831.9 961.3L1832.8 961.6L1834.9 961.0L1836.6 960.2L1836.5 960.6L1838.5 961.2L1839.8 959.6L1840.4 958.7L1841.9 960.4L1843.5 958.3L1844.5 959.5L1845.6 957.2L1847.3 958.4L1848.1 959.0L1849.5 957.0L1850.3 957.8L1850.9 957.5L1852.9 956.7L1854.7 956.1L1855.6 954.5L1857.2 955.1L1857.7 953.8L1860.4 952.7L1860.5 953.5L1862.2 952.2L1863.7 952.4L1864.3 953.0L1865.0 952.4L1866.5 951.3L1868.0 950.1L1869.8 950.5L1870.1 948.6L1871.4 949.0L1873.0 949.5L1873.8 948.8L1875.4 948.6L1876.3 946.5L1877.2 946.3L1878.9 946.9L1879.7 946.4L1880.9 945.7L1882.8 945.6L1884.2 946.1L1884.7 943.8L1886.2 943.2L1887.6 944.7L1888.0 941.3L1889.9 941.4L1891.0 941.8L1891.7 942.5L1894.1 940.1L1894.1 940.4L1895.0 938.2L1896.8 937.6L1898.4 938.6L1898.8 937.9L1901.1 936.9L1901.5 935.6L1902.9 936.3L1904.0 935.4L1904.9 935.6L1906.0 934.1L1907.2 933.2L1908.5 933.0L1910.1 933.5L1910.9 931.6L1912.1 931.5L1913.0 930.7L1913.7 929.7L1915.7 930.0L1916.5 929.2L1917.3 928.3L1918.9 926.2L1919.5 927.0L1921.4 925.5L1922.7 924.3L1924.1 925.3L1924.2 923.7L1925.4 923.2L1926.1 922.7L1927.2 923.0L1928.9 921.2L1929.6 920.5L1930.7 920.4L1932.0 918.6L1933.8 918.7L1934.6 917.4L1935.2 916.9L1936.6 916.6L1938.3 916.7L1939.2 915.0L1940.1 915.5L1941.3 913.5L1942.1 913.3L1943.4 912.5L1944.7 912.8L1945.7 911.2L1946.0 911.7L1947.0 911.1L1948.9 909.7L1949.9 909.7L1950.5 907.6L1952.3 906.4L1952.8 906.4L1953.9 906.3L1955.1 904.9L1957.0 905.7L1956.8 903.7L1958.6 903.3L1959.9 902.6L1961.1 901.4L1961.9 901.5L1962.6 899.9L1963.4 899.9L1964.7 898.5L1966.3 896.9L1967.1 897.1L1967.5 897.0L1969.3 895.6L1969.8 895.4L1971.4 894.6L1972.8 894.2L1974.3 892.9L1974.2 891.7L1975.0 890.7L1975.7 890.1L1977.6 889.2L1978.3 889.2L1979.2 888.6L1979.7 886.7L1981.2 885.5L1982.7 886.2L1983.7 883.6L1984.4 883.8L1985.3 882.7L1985.7 881.4L1987.9 880.9L1988.3 881.0L1989.3 878.7L1990.4 878.9L1991.4 877.0L1992.4 876.4L1992.5 875.3L1994.4 874.8L1995.0 873.1L1995.8 873.5L1997.7 871.5L1998.2 871.6L1999.3 869.5L1999.3 868.0L2001.0 868.7L2001.1 866.6L2001.4 866.4L2003.3 865.8L2004.2 864.1L2005.0 863.9L2006.3 862.8L2006.6 861.2L2007.9 860.1L2008.5 859.2L2009.2 858.6L2010.0 858.7L2011.2 857.5L2011.6 856.5L2012.8 855.2L2013.5 853.2L2014.2 852.5L2014.7 852.4L2015.1 849.4L2016.4 849.2L2017.7 848.5L2018.4 848.7L2018.8 846.8L2020.4 845.8L2019.8 845.3L2022.1 844.0L2021.6 842.9L2023.2 841.1L2023.4 840.5L2024.9 838.6L2025.9 837.2L2026.1 837.1L2026.5 835.1L2026.9 835.4L2027.7 835.3L2029.0 832.0L2030.0 832.0L2030.3 830.4L2030.9 829.4L2032.2 826.9L2032.6 827.5L2033.4 825.8L2033.9 825.2L2034.0 824.8L2035.0 823.2L2036.7 821.7L2036.8 820.1L2038.0 819.4L2037.6 818.0L2038.9 818.0L2040.2 816.3L2040.3 814.9L2041.4 814.5L2042.3 812.9L2042.5 813.7L2042.5 812.4L2044.0 811.0L2044.7 809.1L2045.0 807.5L2046.8 806.5L2046.8 806.5L2047.4 804.3L2049.1 802.7L2049.1 802.9L2049.4 801.0L2050.8 801.1L2051.6 798.5L2052.2 797.3L2052.5 796.3L2053.5 796.2L2053.7 795.5L2055.3 794.8L2055.6 792.6L2056.1 791.0L2056.9 789.5L2058.1 789.4L2058.5 788.8L2058.8 786.8L2059.7 785.8L2060.6 783.6L2060.7 782.7L2061.4 782.7L2062.2 782.7L2063.4 781.5L2063.8 779.0L2064.1 779.1L2064.7 777.1L2065.5 776.0L2066.7 774.9L2067.0 774.6L2067.9 772.7L2067.8 771.3L2068.5 771.1L2069.1 769.8L2069.7 769.3L2071.4 767.5L2072.0 765.1L2071.3 764.1L2072.9 764.0L2072.3 762.2L2073.8 761.2L2074.4 759.8L2074.9 757.7L2076.3 759.0L2076.0 756.4L2077.4 755.7L2077.0 754.8L2078.2 753.3L2079.2 753.0L2079.8 751.2L2080.5 749.4L2080.6 748.2L2080.7 748.0L2080.9 745.7L2082.2 745.1L2083.0 743.6L2083.3 741.2L2083.8 741.5L2085.1 740.8L2084.6 738.8L2085.6 737.5L2085.7 737.2L2086.2 736.3L2087.3 735.0L2088.5 733.5L2088.1 731.8L2089.1 731.2L2089.4 728.8L2090.1 728.0L2090.4 728.2L2091.0 726.0L2091.7 723.4L2092.0 724.1L2092.2 722.3L2093.6 721.3L2094.2 720.1L2094.0 717.5L2094.8 718.1L2095.1 715.6L2095.4 716.4L2096.0 713.7L2097.3 712.8L2096.8 712.4L2097.9 711.8L2099.4 709.3L2098.7 708.4L2099.5 706.9L2100.2 705.4L2101.0 705.5L2102.4 702.8L2101.9 701.9L2102.7 701.3L2103.1 699.9L2103.4 700.3L2104.0 697.0L2104.2 696.0L2105.0 695.4L2105.7 693.9L2105.3 692.8L2106.1 692.3L2106.5 691.3L2107.3 689.6L2107.1 686.5L2108.7 686.1L2109.0 684.3L2109.3 685.1L2109.4 683.6L2110.1 682.0L2110.8 681.0L2110.7 679.4L2111.6 678.0L2111.4 676.0L2112.1 675.6L2111.8 674.5L2113.2 673.2L2112.9 672.8L2114.4 670.8L2115.1 670.1L2114.7 669.3L2115.4 667.8L2116.6 665.6L2116.1 664.5L2116.5 663.4L2117.5 663.2L2117.9 662.2L2118.6 659.6L2118.4 658.4L2119.1 657.5L2119.2 657.1L2119.9 655.4L2119.9 653.0L2120.9 652.5L2121.4 651.6L2121.4 650.2L2121.6 649.2L2122.3 646.8L2122.6 645.5L2123.0 644.8L2123.3 644.0L2123.4 642.5L2124.1 641.7L2123.9 640.6L2125.4 638.6L2125.6 636.3L2126.2 636.7L2126.7 634.4L2126.6 634.3L2127.4 633.4L2127.6 631.7L2128.2 630.8L2128.8 630.0L2128.9 627.6L2129.3 627.4L2130.0 625.8L2129.3 624.2L2130.7 623.1L2130.8 621.9L2131.4 621.4L2131.6 618.9L2131.9 618.4L2133.6 616.2L2133.7 616.6L2134.0 615.4L2134.7 612.1L2134.8 612.9L2135.6 609.5L2135.4 610.6L2136.4 608.5L2137.0 607.1L2137.3 606.0L2136.8 604.8L2138.9 602.9L2138.9 602.5L2139.5 601.9L2139.0 600.2L2138.8 598.6L2140.4 597.3L2140.5 594.7L2141.3 595.5L2140.9 593.0L2141.1 591.1L2142.7 591.5L2142.8 589.1L2142.4 589.0L2141.9 588.9L2143.4 586.1L2144.4 586.4L2144.0 585.2L2144.9 583.1L2144.8 581.5L2144.8 579.8L2146.1 577.8L2144.8 577.1L2146.0 576.3L2147.0 575.0L2146.5 573.5L2146.9 571.8L2147.3 570.8L2147.7 571.3L2148.6 567.9L2148.5 567.9L2148.8 566.5L2149.3 565.2L2149.6 564.2L2149.4 561.9L2150.1 560.4L2149.8 560.2L2151.3 558.8L2150.1 558.0L2151.2 555.8L2151.4 554.6L2151.7 554.2L2152.2 551.4L2152.3 550.8L2152.0 549.2L2152.8 547.5L2152.3 546.4L2153.2 546.6L2154.2 544.1L2154.9 541.8L2155.0 541.6L2155.2 540.5L2155.4 539.7L2155.2 537.1L2156.7 537.1L2156.7 535.5L2157.0 534.7L2156.5 534.0L2157.4 532.2L2157.4 530.6L2157.6 529.0L2159.4 527.5L2158.6 528.2L2158.5 526.2L2158.5 522.9L2160.1 523.3L2159.4 521.9L2159.7 520.5L2160.2 518.4L2160.3 517.8L2160.5 516.2L2161.7 515.7L2162.3 514.1L2161.8 511.9L2161.9 511.0L2162.5 510.5L2162.3 510.0L2162.7 507.1L2162.7 506.9L2164.0 506.0L2163.7 503.1L2163.0 503.5L2163.9 501.7L2164.8 499.3L2164.3 499.1L2165.0 498.0L2165.2 497.0L2164.8 495.4L2165.5 493.6L2166.6 491.1L2165.5 491.1L2166.3 488.8L2166.2 488.8L2166.4 487.2L2166.9 485.7L2167.5 484.5L2167.5 483.6L2168.3 482.7L2168.1 481.5L2167.9 479.7L2168.8 478.3L2168.6 477.4L2168.4 475.1L2169.7 475.0L2169.0 473.7L2169.9 472.0L2170.2 470.3L2169.9 469.5L2170.8 467.5L2170.4 467.3L2171.4 465.1L2171.1 464.9L2171.4 464.3L2172.2 461.2L2172.1 460.6L2171.8 459.4L2172.4 457.3L2172.3 457.8L2173.0 456.5L2173.3 453.5L2173.0 453.4L2173.8 450.3L2174.0 449.7L2174.0 447.9L2173.7 447.3L2174.6 446.5L2174.3 445.0L2174.3 444.2L2175.4 443.1L2175.8 442.6L2175.8 440.4L2175.3 438.9L2176.3 438.6L2175.8 436.2L2176.7 436.1L2177.0 433.0L2176.9 433.8L2176.9 431.5L2177.7 429.5L2177.5 430.2L2178.0 427.3L2178.2 425.9L2177.7 425.4L2178.3 422.8L2178.7 422.8L2178.2 421.8L2178.7 420.0L2179.3 418.5L2179.3 416.4L2179.7 415.0L2179.6 414.0L2179.8 413.4L2180.0 412.7L2180.6 411.3L2180.6 408.7L2180.8 407.6L2181.9 406.7L2182.0 405.3L2181.1 404.6L2182.1 401.5L2182.3 400.4L2182.4 401.1L2182.4 399.0L2182.6 398.1L2182.8 396.2L2182.9 396.1L2183.0 394.3L2183.1 392.3L2184.2 391.3L2183.9 390.4L2184.2 389.3L2184.7 387.9L2183.9 386.7L2185.4 384.2L2186.3 383.7L2185.4 382.4L2186.1 382.3L2186.3 381.3L2186.7 378.6L2186.4 376.9L2186.8 375.8L2187.0 375.4L2187.2 373.8L2186.6 372.9L2188.0 370.9L2188.6 369.1L2189.0 368.7L2189.0 367.9L2188.6 365.9L2189.1 364.6L2189.4 363.6L2189.2 363.7L2189.9 361.7L2190.8 359.5L2190.2 358.4L2190.9 357.4L2191.3 354.4L2191.3 353.8L2192.0 353.6L2193.0 351.8L2192.2 351.0L2192.7 349.6L2192.4 346.7L2194.2 346.0L2193.5 345.6L2194.3 344.0L2194.9 343.2L2195.2 342.4L2195.0 340.5L2195.1 339.1L2195.2 336.9L2195.5 336.2L2196.2 336.4L2196.7 335.1L2197.1 333.7L2197.4 331.4L2197.1 330.3L2198.6 330.1L2198.7 327.4L2198.0 327.3L2198.8 325.7L2198.9 324.5L2199.4 322.1L2200.0 322.3L2200.5 320.9L2200.4 318.6L2201.1 318.2L2201.3 316.8L2202.2 315.5L2201.7 312.7L2202.2 314.5L2202.4 310.4L2202.4 309.5L2203.7 309.3L2203.6 308.2L2203.8 307.3L2204.0 304.8L2204.2 304.3L2204.5 302.4L2204.6 300.6L2205.2 300.3L2206.2 299.1L2205.9 298.0L2205.8 295.8L2206.2 295.5L2206.5 294.3L2207.2 292.9L2207.4 292.2L2207.9 290.0L2208.8 289.0L2208.2 287.5L2208.9 286.2L2209.3 285.3L2210.3 283.0L2209.5 283.9L2209.9 280.5L2209.2 280.4L2209.7 278.8L2211.2 277.8L2210.3 277.0L2211.5 275.9L2211.6 273.5L2211.5 273.5L2211.7 271.2L2211.3 270.7L2212.0 269.6L2211.9 268.0L2212.6 265.4L2212.4 265.3L2213.0 263.9L2213.4 263.0L2213.6 261.2L2213.7 260.8L2214.9 258.3L2214.6 257.1L2214.6 255.3L2214.7 253.0L2214.3 252.8L2215.6 251.0L2214.7 250.9L2215.2 250.6L2215.8 247.8L2215.3 246.0L2216.6 245.0L2215.7 244.9L2216.6 243.8L2216.9 242.0L2216.7 240.7L2217.0 238.5L2217.8 237.6L2218.4 235.7L2217.8 234.8L2218.4 234.5L2218.1 232.5L2218.1 230.8L2219.5 230.9L2219.5 230.1L2219.8 227.8L2219.7 227.0L2220.9 225.3L2219.7 222.6L2220.8 221.8L2220.6 222.0L2220.9 220.4L2221.0 218.9L2221.4 217.4L2222.5 216.9L2222.1 213.6L2222.5 213.5L2222.6 213.0L2222.1 211.5L2223.3 208.5L2222.5 209.2L2223.3 208.0L2223.6 204.3L2223.8 203.9L2223.2 202.8L2223.6 200.9L2223.6 201.3L2224.9 198.1L2224.5 199.3L2223.9 196.4L2224.8 194.4L2224.3 195.1L2224.8 192.9L2225.3 191.5L2225.1 191.8L2226.0 189.6L2225.7 187.6L2226.4 185.6L2226.0 184.9L2226.1 184.0L2226.6 182.0L2226.9 182.4L2226.7 180.5L2228.3 177.6L2227.3 177.3L2228.4 176.3L2228.1 173.9L2228.4 174.0L2229.4 173.1L2229.1 171.5L2229.3 170.0L2229.9 169.4L2230.1 170.6L2229.4 173.6L2229.9 173.6L2229.4 175.1L2229.8 175.7L2229.5 177.7L2229.5 178.0L2229.2 180.4L2230.1 181.6L2229.4 181.2L2228.5 183.0L2229.2 184.9L2228.5 186.4L2228.7 186.7L2228.5 189.0L2229.5 189.3L2228.7 191.0L2228.5 192.5L2228.5 194.2L2228.1 195.9L2229.3 195.8L2228.8 198.0L2228.7 200.2L2227.8 200.7L2228.8 200.9L2228.6 203.7L2227.4 203.5L2227.8 205.2L2227.8 207.3L2228.0 209.6L2228.5 209.4L2227.8 211.3L2228.9 212.9L2228.0 212.8L2227.3 214.3L2228.3 216.7L2228.2 218.2L2228.0 217.5L2227.5 219.7L2228.3 220.7L2228.7 222.6L2227.1 224.4L2228.4 226.0L2227.4 226.7L2227.3 229.2L2227.0 229.2L2227.1 229.7L2228.2 232.6L2227.2 232.9L2227.9 234.4L2227.2 234.7L2227.9 237.0L2227.8 238.4L2226.6 238.8L2227.2 241.2L2227.4 242.2L2227.2 243.9L2227.5 245.9L2227.7 246.6L2227.6 248.2L2227.1 247.6L2227.6 251.4L2227.5 251.8L2227.0 252.3L2227.7 253.6L2228.0 255.5L2228.0 256.9L2226.7 258.2L2227.2 260.4L2227.1 261.3L2227.1 261.6L2226.4 262.3L2226.7 263.8L2226.8 264.8L2227.6 267.2L2226.7 269.6L2226.5 270.2L2226.5 271.2L2226.5 271.8L2226.6 272.5L2225.9 274.6L2226.5 275.8L2226.4 276.9L2226.7 279.1L2226.0 279.2L2226.5 281.6L2226.2 282.8L2225.5 282.9L2225.6 286.3L2225.3 288.0L2224.9 287.6L2225.6 289.5L2225.5 291.8L2224.7 291.5L2225.6 292.9L2225.7 294.8L2225.1 296.2L2225.1 297.3L2225.7 297.2L2224.5 299.7L2225.0 301.0L2225.4 302.7L2225.0 301.8L2224.4 305.7L2224.8 304.7L2224.8 307.5L2224.4 307.8L2224.9 310.0L2224.7 312.7L2223.6 312.0L2224.5 314.5L2224.1 315.0L2223.7 316.9L2224.5 317.7L2225.0 319.2L2224.4 320.2L2223.7 322.2L2224.4 322.7L2224.0 324.8L2224.4 326.0L2223.6 325.7L2224.3 327.1L2224.5 329.5L2223.9 331.2L2224.5 332.7L2224.3 333.6L2224.2 333.7L2223.5 335.1L2224.1 336.9L2223.8 338.4L2224.0 339.1L2223.3 340.5L2224.5 342.4L2223.4 343.4L2224.5 345.9L2223.7 346.1L2224.8 347.7L2224.1 349.0L2222.9 350.5L2223.1 350.7L2223.7 353.1L2223.5 355.3L2223.6 355.6L2224.5 356.8L2224.1 358.2L2223.2 360.2L2223.2 361.0L2223.4 361.9L2223.1 363.2L2223.1 365.6L2223.9 366.3L2223.6 367.5L2223.6 369.3L2222.5 370.9L2223.0 372.3L2222.7 371.0L2222.9 372.6L2222.4 373.8L2222.8 376.4L2222.6 376.9L2222.7 378.7L2222.5 380.1L2221.9 382.0L2222.5 382.3L2222.2 383.7L2222.4 385.0L2222.2 387.4L2222.4 387.7L2221.3 389.0L2221.9 390.6L2222.3 391.4L2221.7 393.1L2221.2 392.8L2221.8 395.7L2221.9 397.3L2221.2 397.9L2221.6 398.8L2221.9 400.0L2220.7 401.2L2220.7 403.3L2220.9 405.9L2221.2 406.0L2220.5 406.8L2221.5 407.3L2222.0 410.7L2221.3 410.2L2221.4 412.5L2221.3 413.5L2221.2 415.8L2220.8 417.4L2220.5 418.8L2219.7 420.2L2220.4 420.3L2221.1 421.6L2220.7 423.4L2220.0 425.4L2221.2 425.0L2219.7 427.1L2220.0 428.4L2220.9 430.5L2221.0 430.4L2220.8 431.5L2220.3 433.7L2220.2 433.6L2220.0 434.4L2220.7 435.9L2219.1 437.9L2220.2 440.2L2220.9 440.8L2220.0 443.0L2218.9 443.3L2220.3 445.4L2219.2 445.9L2219.1 447.6L2220.0 448.9L2219.8 451.3L2219.9 451.7L2219.4 453.8L2219.1 453.3L2219.0 454.5L2219.5 456.6L2219.3 458.1L2219.4 459.1L2219.5 461.2L2219.0 463.0L2219.7 463.0L2219.1 464.7L2219.3 465.6L2218.4 466.8L2218.6 468.4L2218.5 470.3L2218.5 471.1L2218.3 472.6L2217.9 474.4L2218.1 474.6L2218.4 476.7L2218.1 477.9L2217.7 478.3L2217.9 479.9L2218.2 481.6L2218.0 483.4L2217.5 483.5L2218.0 485.3L2217.9 488.0L2218.5 489.1L2218.2 488.5L2218.2 491.3L2217.9 491.8L2217.4 492.8L2218.2 494.4L2217.8 495.5L2217.0 497.0L2217.5 498.5L2217.4 499.1L2216.7 500.4L2216.9 502.3L2216.3 502.8L2217.0 504.8L2216.9 505.8L2216.9 506.3L2216.8 509.0L2216.7 509.6L2217.0 511.4L2216.6 512.8L2216.8 513.4L2216.2 516.0L2216.5 516.9L2215.7 517.7L2215.4 520.3L2216.0 520.6L2215.9 522.5L2216.3 523.0L2215.7 524.6L2216.1 526.1L2215.6 527.6L2215.6 528.1L2215.8 528.9L2216.3 531.1L2215.8 531.8L2215.5 534.2L2215.6 534.7L2215.1 535.5L2215.5 538.1L2214.9 538.5L2215.8 540.0L2214.9 540.4L2215.8 543.2L2214.9 544.9L2214.8 545.5L2214.8 546.7L2215.5 547.8L2214.7 549.2L2214.8 550.3L2214.7 551.2L2215.1 553.3L2213.8 552.7L2214.6 554.6L2214.1 558.3L2214.4 558.1L2213.7 557.8L2213.7 559.1L2213.3 561.5L2213.1 563.4L2213.2 565.3L2214.1 566.0L2213.3 566.8L2213.3 567.8L2212.7 570.3L2213.1 571.6L2212.3 573.2L2212.6 573.5L2211.7 573.8L2212.0 576.4L2212.3 578.7L2211.6 578.9L2211.1 579.0L2210.9 581.4L2211.1 582.6L2210.4 583.2L2210.9 583.9L2209.6 585.7L2210.0 588.2L2209.8 589.7L2210.1 591.7L2209.7 591.7L2209.9 592.7L2209.2 595.5L2209.5 594.7L2208.5 597.5L2208.6 597.6L2209.2 599.7L2208.4 600.1L2207.9 602.4L2208.6 603.7L2209.0 605.9L2208.4 605.4L2208.1 606.9L2208.7 608.5L2208.1 608.7L2208.4 612.0L2207.7 611.8L2207.3 613.0L2207.9 615.7L2207.2 615.7L2207.5 617.2L2207.4 620.0L2207.9 620.2L2207.3 621.9L2207.9 621.2L2207.0 624.4L2206.7 625.2L2206.4 626.0L2207.2 628.2L2207.2 629.3L2206.8 630.8L2206.9 631.2L2206.8 633.9L2206.3 635.2L2206.9 635.0L2206.4 636.6L2206.2 638.1L2205.9 639.4L2206.8 639.6L2205.1 642.3L2205.4 642.8L2204.7 644.2L2206.3 646.4L2205.8 647.2L2204.9 649.1L2204.6 650.8L2205.1 650.8L2205.2 653.4L2204.7 653.7L2205.0 655.2L2205.4 656.9L2204.8 658.2L2205.3 658.9L2204.5 660.5L2205.1 662.8L2204.3 663.3L2204.7 663.8L2204.6 665.2L2204.1 666.3L2204.1 668.4L2204.1 669.6L2203.4 669.9L2204.5 671.9L2203.2 673.2L2203.5 674.1L2203.2 676.7L2203.4 677.6L2202.9 678.2L2202.9 679.7L2202.3 681.4L2203.3 683.1L2203.5 684.1L2202.1 685.4L2202.8 686.3L2202.1 687.1L2202.7 689.1L2202.3 689.9L2202.0 691.1L2202.6 692.7L2201.9 692.9L2202.1 696.4L2202.2 696.7L2201.3 697.2L2201.0 698.1L2201.9 700.7L2201.1 701.5L2201.6 703.4L2200.4 704.6L2200.0 705.3L2200.6 707.2L2201.5 707.8L2200.9 710.5L2200.7 711.1L2200.4 711.8L2200.0 714.8L2200.3 714.3L2200.4 716.7L2199.9 716.7L2199.3 718.5L2199.5 720.0L2199.7 721.9L2199.4 722.0L2199.0 723.6L2199.6 724.8L2198.3 726.1L2199.2 727.2L2198.3 730.5L2198.5 730.1L2198.7 730.6L2198.5 732.8L2198.1 735.7L2198.4 736.0L2197.7 736.3L2198.1 739.1L2197.3 739.5L2197.8 741.2L2198.1 743.4L2197.4 743.8L2197.0 744.6L2197.2 746.0L2197.4 747.6L2196.6 748.6L2197.3 750.3L2196.7 750.4L2196.7 752.7L2196.3 753.9L2196.9 754.8L2195.5 757.4L2196.1 755.9L2195.6 758.3L2195.8 759.0L2195.3 761.3L2196.4 763.3L2195.8 765.0L2195.5 765.0L2195.5 766.5L2194.9 768.2L2194.5 769.5L2195.3 771.0L2194.7 771.5L2194.8 771.9L2193.8 774.9L2194.1 776.8L2193.4 775.7L2193.7 778.8L2193.0 780.2L2193.9 780.7L2193.6 781.6L2193.3 783.1L2194.0 784.9L2193.2 785.1L2192.3 788.1L2193.5 788.6L2191.4 790.5L2191.6 790.9L2191.8 792.6L2191.6 793.3L2191.6 795.2L2191.5 795.6L2191.1 797.8L2190.6 799.6L2191.0 800.4L2190.7 802.5L2190.2 802.3L2190.9 805.3L2190.3 804.5L2190.9 805.9L2189.3 808.1L2190.3 809.3L2189.9 810.4L2189.7 811.7L2189.1 813.2L2189.3 814.5L2188.8 815.6L2189.0 816.2L2187.7 818.7L2189.1 819.1L2188.0 821.4L2187.7 823.0L2188.7 822.8L2187.7 824.3L2187.2 824.8L2187.3 826.4L2187.6 827.2L2186.8 829.5L2187.1 830.6L2186.5 833.4L2187.1 834.7L2186.4 835.8L2186.3 835.2L2185.9 837.2L2185.5 837.5L2185.1 840.2L2185.9 841.5L2184.7 842.8L2183.9 845.4L2184.8 844.6L2183.5 846.1L2184.5 847.9L2184.6 848.5L2184.2 850.6L2183.5 850.6L2184.1 854.0L2183.1 855.1L2182.6 855.6L2182.4 857.5L2181.6 858.1L2182.9 858.3L2182.0 860.6L2181.7 860.3L2180.9 864.5L2181.2 862.9L2180.9 865.3L2180.2 866.1L2180.8 867.4L2180.6 869.5L2180.3 870.0L2179.8 871.8L2179.5 874.0L2178.6 874.4L2179.3 875.9L2178.7 876.7L2177.9 877.2L2178.7 880.0L2177.3 880.8L2177.0 882.0L2178.2 883.3L2177.1 885.0L2176.7 886.8L2176.7 887.6L2175.7 888.9L2176.4 890.4L2174.7 889.6L2176.1 891.8L2175.5 893.7L2175.3 895.3L2174.4 895.8L2174.6 897.7L2174.1 899.1L2174.2 899.7L2173.8 901.6L2173.5 901.0L2172.9 902.3L2172.5 904.6L2172.0 906.0L2171.9 907.7L2170.4 908.3L2171.3 909.6L2170.9 910.8L2170.0 912.3L2170.7 914.7L2169.6 915.0L2168.8 917.0L2169.4 917.0L2168.4 919.5L2168.4 919.6L2167.6 920.4L2166.5 922.4L2167.4 924.2L2166.2 925.8L2166.1 925.4L2166.9 926.7L2165.6 928.2L2165.5 930.2L2164.5 932.3L2164.7 933.2L2164.3 933.0L2164.6 934.1L2164.0 935.8L2163.0 938.5L2162.9 938.2L2162.9 939.4L2161.8 941.5L2162.1 942.1L2162.1 942.8L2161.0 944.6L2161.4 945.7L2160.9 948.2L2160.0 949.3L2159.9 951.3L2159.4 951.6L2158.9 953.1L2157.8 953.7L2157.5 956.5L2157.4 954.8L2157.8 958.9L2157.0 958.4L2155.7 960.0L2156.2 961.0L2155.2 963.3L2154.6 962.2L2154.9 965.2L2154.5 966.3L2153.5 967.2L2153.8 969.0L2153.7 970.3L2151.7 970.2L2153.2 971.1L2152.0 972.9L2151.6 974.7L2150.6 977.5L2150.1 977.1L2150.1 978.6L2150.0 978.9L2149.1 981.6L2148.4 981.9L2148.2 982.1L2147.3 983.7L2146.6 986.3L2146.8 986.4L2145.7 989.3L2145.2 990.0L2145.2 990.7L2144.9 990.8L2144.0 994.1L2142.9 994.2L2142.9 996.4L2142.7 995.5L2141.6 996.6L2141.9 997.3L2140.5 1001.5L2140.0 1000.7L2140.0 1001.9L2138.8 1004.5L2137.9 1005.0L2138.1 1007.0L2138.2 1006.6L2137.6 1008.2L2137.2 1010.2L2136.0 1010.1L2135.3 1012.0L2134.6 1014.0L2134.9 1014.9L2133.4 1014.0L2133.0 1015.9L2132.6 1018.0L2132.0 1018.9L2131.8 1020.0L2130.7 1021.8L2130.2 1022.3L2129.3 1023.5L2129.7 1025.4L2128.5 1025.8L2127.9 1026.8L2128.3 1027.2L2126.5 1030.9L2126.6 1029.7L2125.1 1032.1L2125.3 1031.4L2125.0 1032.5L2123.8 1034.7L2122.8 1036.1L2122.2 1037.1L2121.6 1039.2L2120.7 1039.4L2119.9 1040.1L2120.3 1041.6L2118.9 1043.4L2118.5 1044.9L2117.2 1044.9L2116.7 1045.1L2115.1 1046.7L2115.8 1047.0L2114.4 1049.1L2113.2 1050.1L2113.1 1051.3L2112.0 1051.8L2110.8 1053.8L2109.8 1054.2L2109.1 1055.4L2108.1 1056.8L2107.4 1058.2L2106.3 1057.4L2105.5 1059.4L2105.5 1061.1L2103.4 1061.2L2102.8 1061.7L2102.4 1061.4L2101.1 1065.1L2101.0 1065.1L2099.3 1064.8L2098.8 1066.5L2097.7 1066.5L2097.1 1068.1L2095.5 1067.9L2094.6 1069.6L2093.5 1071.3L2092.5 1073.2L2092.3 1073.1L2090.8 1074.0L2089.8 1073.6L2088.9 1075.5L2088.1 1076.3L2086.5 1076.1L2085.7 1078.6L2085.7 1077.3L2083.5 1078.6L2082.4 1080.7L2082.3 1080.2L2081.9 1081.1L2080.9 1082.6L2078.9 1083.4L2077.7 1083.7L2076.8 1084.6L2075.3 1086.3L2073.9 1085.9L2073.7 1088.4L2072.7 1088.2L2071.9 1089.7L2070.6 1090.4L2069.6 1090.5L2069.1 1090.0L2067.2 1091.0L2066.5 1093.3L2066.2 1094.2L2065.0 1095.7L2064.2 1094.9L2062.2 1095.2L2061.1 1097.2L2059.9 1097.2L2057.9 1098.9L2058.3 1099.5L2057.0 1099.3L2056.1 1099.3L2054.1 1102.2L2053.4 1102.3L2052.1 1101.7L2050.6 1102.5L2050.7 1102.3L2049.1 1103.8L2047.9 1104.7L2046.2 1104.0L2045.8 1106.1L2044.0 1105.5L2043.4 1106.1L2041.9 1107.7L2040.9 1107.5L2039.2 1108.6L2038.1 1109.3L2037.5 1110.3L2036.2 1109.6L2034.5 1110.7L2032.9 1110.5L2032.6 1110.9L2030.9 1113.0L2030.1 1112.7L2029.0 1113.7L2027.9 1114.4L2026.5 1113.5L2025.1 1113.0L2024.2 1115.0L2023.1 1115.2L2021.1 1116.8L2020.4 1115.9L2019.1 1117.1L2017.3 1117.8L2017.1 1118.1L2015.5 1118.8L2014.3 1118.2L2012.2 1118.7L2011.6 1118.8L2010.0 1119.2L2009.0 1119.8L2007.9 1120.4L2007.1 1120.8L2005.6 1121.2L2003.1 1120.6L2003.2 1121.5L2001.4 1121.9L2000.8 1121.6L1999.2 1122.4L1998.1 1123.9L1996.6 1125.0L1995.6 1124.4L1994.1 1123.6L1992.4 1124.0L1991.2 1124.9L1990.0 1126.1L1989.1 1124.8L1987.8 1125.1L1985.9 1125.4L1984.7 1124.5L1984.1 1127.4L1982.5 1126.7L1981.5 1126.8L1979.8 1126.2L1979.4 1126.9L1978.1 1127.0L1977.4 1127.7L1975.1 1128.3L1974.2 1129.6L1972.1 1129.6L1971.9 1130.0L1969.8 1129.4L1969.1 1129.0L1967.4 1130.2L1966.8 1129.4L1964.9 1131.2L1963.2 1131.9L1961.9 1131.8L1961.0 1132.4L1959.6 1132.5L1959.0 1132.2L1957.3 1131.6L1956.3 1131.9L1954.6 1132.4L1953.9 1132.9L1952.2 1132.6L1950.7 1133.4L1949.6 1133.3L1947.7 1134.3L1946.6 1134.6L1946.8 1134.7L1944.5 1134.3L1943.7 1135.0L1941.2 1135.2L1940.8 1134.6L1939.9 1136.2L1938.5 1135.9L1937.4 1135.8L1935.3 1136.7L1935.1 1137.2L1932.6 1136.7L1931.3 1136.9L1930.7 1137.8L1929.3 1138.0L1927.9 1139.2L1925.7 1137.7L1925.1 1139.0L1924.3 1138.9L1922.2 1139.7L1921.6 1138.9L1920.8 1139.7L1918.2 1139.7L1917.1 1141.1L1916.6 1139.9L1916.2 1140.1L1914.1 1141.2L1913.6 1141.0L1911.1 1141.9L1909.4 1142.6L1908.9 1141.6L1907.1 1142.3L1906.9 1143.5L1905.1 1142.0L1903.5 1142.4L1902.5 1143.8L1901.2 1143.2L1900.4 1142.7L1899.1 1143.2L1897.1 1143.7L1896.1 1145.3L1894.5 1144.0L1894.2 1145.1L1892.0 1145.3L1890.6 1144.4L1889.7 1145.3L1888.9 1145.1L1886.7 1145.1L1886.0 1146.4L1884.9 1146.0L1883.9 1145.5L1882.7 1148.2L1881.4 1147.0L1879.9 1147.2L1878.1 1147.2L1876.0 1148.0L1876.2 1147.7L1874.4 1146.6L1873.1 1149.0L1872.3 1148.8L1869.6 1149.2L1869.0 1148.6L1867.7 1149.7L1867.4 1149.9L1865.9 1148.8L1864.4 1151.4L1863.0 1151.1L1861.8 1151.8L1860.8 1151.4L1859.2 1151.8L1857.5 1152.5L1856.7 1153.6L1855.5 1152.8L1854.9 1153.1L1853.9 1154.9L1852.2 1154.6L1850.3 1154.8L1849.6 1155.8L1848.1 1157.0L1847.4 1157.6L1845.8 1156.8L1845.4 1157.4L1843.9 1158.2L1842.2 1159.7L1841.3 1159.3L1839.4 1159.6L1838.9 1159.9L1838.2 1161.2L1836.5 1160.2L1835.5 1161.0L1833.8 1162.7L1832.4 1163.7L1830.9 1162.8L1830.2 1163.2L1829.5 1164.7L1827.5 1164.6L1826.5 1165.2L1825.4 1165.8L1824.4 1166.2L1823.3 1167.1L1822.4 1167.3L1821.5 1169.4L1819.7 1169.4L1818.7 1169.7L1818.0 1170.9L1817.4 1171.0L1815.9 1172.0L1815.5 1173.4L1814.1 1176.0L1813.1 1175.5L1812.2 1176.4L1810.9 1179.0L1810.1 1178.3L1809.3 1179.5L1808.2 1180.6L1807.8 1182.6L1807.1 1180.9L1805.4 1182.7L1804.8 1184.2L1803.9 1185.4L1803.2 1186.4L1802.3 1186.9L1801.1 1187.3L1800.6 1188.8L1800.3 1189.1L1798.0 1191.4L1797.4 1191.9L1796.2 1192.1L1795.2 1194.0L1794.2 1193.6L1794.0 1195.8L1792.2 1194.3L1791.2 1196.2L1789.8 1196.4L1788.6 1197.4L1788.9 1198.4L1787.4 1198.1L1785.2 1199.1L1783.9 1199.0L1783.3 1199.6L1781.7 1200.5L1780.5 1199.3L1779.3 1201.6L1777.1 1200.6L1776.9 1200.5L1775.9 1200.4L1773.7 1200.7L1772.7 1200.8L1771.3 1202.0L1770.2 1200.1L1769.5 1201.7L1768.2 1200.6L1766.5 1201.8L1764.6 1200.7L1764.1 1200.5L1762.8 1201.2L1761.1 1202.1L1760.6 1200.6L1758.4 1199.5L1757.1 1199.8L1755.7 1199.8L1754.3 1200.0L1753.0 1198.1L1752.7 1197.1L1751.3 1197.8L1750.5 1197.3L1749.2 1195.6L1749.0 1195.5L1747.3 1194.1L1746.7 1193.9L1745.6 1192.9L1744.2 1191.0L1743.3 1189.5L1742.6 1191.4L1741.7 1189.0L1740.1 1188.1L1739.7 1186.6L1738.5 1186.2L1737.7 1185.1L1736.9 1183.3L1736.6 1182.7L1735.6 1183.2L1734.3 1181.1L1733.4 1179.3L1733.1 1180.5L1731.6 1178.7L1730.9 1177.7L1729.9 1176.9L1728.7 1175.6L1728.0 1175.3L1726.9 1174.1L1724.9 1174.4L1724.0 1174.1L1722.8 1173.5L1720.7 1173.0L1720.1 1173.6L1719.0 1174.1L1718.1 1171.4L1716.5 1172.1L1715.4 1174.0L1713.6 1171.6L1712.7 1171.1L1710.7 1172.5L1710.2 1172.3L1708.2 1172.5L1706.7 1171.5L1706.0 1171.0L1705.1 1171.9L1703.2 1172.0L1702.6 1170.9L1700.7 1172.0L1699.0 1171.2L1697.7 1172.3L1697.0 1172.3L1694.8 1171.7L1694.8 1172.3L1692.4 1171.6L1691.6 1173.0L1690.8 1171.9L1689.2 1172.2L1687.4 1172.2L1686.0 1172.7L1684.9 1171.4L1684.2 1173.6L1682.9 1174.3L1681.3 1174.0L1680.1 1172.7L1678.9 1172.4L1677.4 1172.9L1676.0 1172.7L1674.6 1174.1L1673.5 1173.0L1672.0 1174.2L1670.2 1172.9L1670.0 1172.9L1668.4 1173.8L1667.1 1174.7L1665.4 1174.4L1664.6 1173.1L1663.3 1174.3L1661.7 1173.7L1660.1 1176.0L1659.7 1174.8L1657.9 1174.7L1656.9 1173.5L1655.8 1174.8L1653.8 1175.1L1652.6 1175.6L1652.0 1175.1L1650.2 1176.3L1649.1 1176.3L1647.5 1176.2L1646.4 1176.0L1645.1 1176.5L1643.6 1175.9L1641.9 1176.7L1641.4 1176.5L1639.6 1176.8L1638.3 1176.8L1637.0 1177.6L1635.4 1176.0L1634.7 1177.5L1632.8 1177.1L1631.7 1177.5L1630.7 1177.3L1629.5 1177.3L1627.9 1177.5L1627.4 1178.0L1625.9 1179.4L1624.3 1178.0L1623.3 1179.3L1621.7 1177.8L1620.7 1178.5L1618.9 1179.7L1617.7 1180.9L1616.5 1181.1L1616.0 1179.7L1613.8 1179.6L1612.7 1181.2L1610.9 1180.7L1610.5 1181.8L1609.1 1181.0L1607.3 1180.6L1606.4 1180.0L1605.3 1182.1L1603.9 1182.1L1601.8 1181.0L1601.1 1182.2L1599.7 1182.7L1598.7 1181.6L1596.6 1181.9L1595.6 1182.1L1594.4 1181.9L1594.3 1183.5L1591.9 1184.2L1590.7 1184.0L1589.2 1183.6L1587.5 1183.5L1586.6 1185.0L1585.4 1184.3L1583.9 1184.3L1583.4 1184.0L1581.0 1184.9L1579.9 1185.3L1579.4 1185.1L1577.8 1184.6L1576.8 1185.1L1575.9 1186.1L1574.8 1185.9L1573.5 1185.3L1571.8 1186.0L1570.2 1186.3L1569.1 1186.0L1567.7 1188.2L1566.4 1187.0L1565.0 1187.8L1563.9 1187.5L1562.9 1188.6L1561.0 1187.2L1560.3 1188.2L1558.6 1189.1L1557.3 1190.1L1556.7 1189.8L1554.9 1190.1L1552.9 1189.7L1552.0 1188.3L1551.4 1190.2L1550.1 1189.9L1549.0 1190.5L1546.8 1189.3L1545.4 1189.9L1544.2 1191.9L1543.1 1190.5L1541.8 1191.9L1541.0 1192.0L1538.5 1191.3L1537.7 1191.3L1536.6 1193.3L1535.8 1191.7L1534.0 1192.7L1533.4 1193.7L1531.5 1193.4L1529.7 1192.8L1529.4 1193.9L1528.0 1193.3L1526.2 1195.7L1525.6 1193.2L1523.9 1194.4L1522.8 1195.3L1521.8 1195.8L1520.3 1196.2L1519.6 1194.2L1518.2 1194.8L1515.9 1196.4L1515.6 1196.6L1514.0 1196.1L1512.3 1196.6L1511.9 1197.0L1510.1 1198.2L1508.9 1198.0L1507.7 1198.6L1506.7 1197.5L1504.1 1198.4L1503.4 1199.8L1502.6 1199.6L1501.5 1199.6L1500.0 1200.2L1498.7 1200.0L1497.6 1200.3L1496.7 1202.3L1494.5 1202.0L1494.2 1202.7L1491.6 1203.8L1491.2 1202.7L1489.6 1203.8L1489.7 1203.1L1486.7 1204.4L1486.8 1204.1L1485.3 1204.0L1483.2 1204.8L1483.0 1204.7L1481.0 1206.3L1479.7 1206.6L1478.7 1206.4L1477.6 1205.7L1475.2 1206.6L1474.7 1206.7L1473.4 1207.1L1471.5 1207.5L1471.3 1209.0L1469.9 1208.9L1468.7 1209.2L1466.9 1208.8L1466.7 1210.0L1465.7 1210.5L1463.7 1209.8L1463.1 1210.7L1461.1 1212.7L1460.0 1212.5L1458.8 1211.7L1458.3 1212.1L1456.9 1213.6L1454.2 1213.8L1454.0 1214.5L1452.7 1212.8L1452.1 1215.4L1450.5 1214.3L1448.8 1215.6L1447.9 1215.5L1446.7 1216.4L1444.6 1216.0L1444.4 1217.5L1442.6 1216.5L1440.6 1217.7L1441.0 1217.8L1438.5 1217.9L1437.5 1219.4L1436.1 1218.4L1434.2 1218.6L1433.1 1217.9L1432.4 1219.7L1430.3 1220.1L1430.5 1219.2L1427.9 1219.4L1427.2 1219.7L1426.6 1220.5L1425.4 1221.7L1423.3 1221.5L1421.7 1221.1L1421.5 1222.6L1419.4 1222.1L1418.7 1222.8L1416.8 1222.7L1415.7 1223.1L1414.9 1223.8L1413.3 1223.9L1412.5 1224.9L1411.3 1225.1L1409.8 1225.0L1407.7 1224.1L1407.4 1224.6L1406.0 1226.2L1405.4 1226.0L1402.7 1226.0L1402.0 1225.6L1401.2 1227.5L1400.0 1227.2L1398.1 1227.7L1397.5 1227.9L1395.5 1229.2L1394.7 1228.2L1393.0 1230.8L1392.4 1228.8L1390.7 1230.5L1389.9 1230.5L1388.5 1229.7L1387.6 1231.8L1386.0 1232.6L1385.3 1231.2L1383.3 1233.1L1382.8 1233.8L1380.2 1233.4L1379.6 1233.6L1378.6 1233.8L1377.6 1234.1L1375.7 1236.5L1374.8 1236.4L1373.7 1236.5L1372.3 1237.5L1371.0 1237.6L1370.1 1237.7L1368.3 1238.8L1368.3 1237.6L1367.2 1239.3L1365.4 1238.8L1364.8 1240.4L1362.7 1240.5L1361.7 1241.5L1360.8 1241.0L1358.9 1240.8L1358.0 1243.5L1357.1 1242.9L1356.0 1244.5L1354.4 1243.6L1353.4 1245.5L1352.6 1244.9L1352.0 1246.7L1349.6 1245.7L1348.9 1246.6L1348.0 1247.3L1346.8 1246.7L1345.1 1248.3L1344.2 1249.8L1343.5 1249.3L1341.6 1250.9L1340.2 1251.3L1339.3 1250.9L1338.3 1252.6L1336.6 1252.4L1336.6 1252.4L1334.5 1254.4L1333.9 1255.5L1332.3 1255.1L1331.5 1256.7L1330.4 1257.7L1328.9 1256.8L1328.1 1257.4L1327.1 1258.7L1325.3 1259.5L1324.2 1259.7L1322.9 1260.8L1322.0 1260.7L1321.1 1261.4L1320.0 1263.5L1318.9 1262.2L1318.1 1264.3L1317.6 1264.7L1315.8 1266.0L1314.1 1266.8L1313.2 1266.5L1313.1 1267.5L1312.0 1267.7L1310.8 1268.1L1308.8 1268.3L1308.1 1270.9L1307.0 1271.1L1305.9 1271.8L1304.8 1271.8L1303.5 1273.3L1303.5 1274.2L1301.5 1273.6L1300.7 1275.2L1299.3 1276.3L1298.6 1277.0L1298.1 1277.7L1295.9 1278.6L1295.7 1278.2L1294.1 1279.9L1293.2 1280.0L1292.0 1281.6L1291.6 1282.2L1290.5 1283.8L1288.7 1283.9L1288.8 1285.4L1287.6 1286.5L1286.3 1286.6L1285.6 1287.2L1284.9 1287.8L1282.9 1289.3L1281.4 1289.6L1280.9 1289.9L1279.6 1292.8L1279.0 1292.6L1278.2 1292.6L1277.3 1292.3L1276.0 1295.8L1274.9 1295.2L1273.7 1296.5L1273.0 1297.0L1272.0 1297.4L1271.1 1298.7L1269.6 1298.6L1269.2 1299.8L1267.1 1301.1L1267.5 1300.8L1265.2 1302.7L1264.7 1302.7L1264.3 1305.1L1262.5 1304.7L1261.2 1307.1L1260.7 1307.6L1260.1 1307.4L1258.2 1308.5L1257.5 1308.0L1257.1 1310.1L1256.0 1309.0L1255.1 1311.8L1253.5 1312.7L1252.6 1313.3L1251.3 1313.3L1250.1 1314.6L1248.7 1314.3L1248.5 1316.4L1246.7 1317.0L1246.0 1318.2L1245.8 1317.0L1245.0 1318.2L1242.9 1320.4L1241.7 1319.2L1241.5 1322.5L1239.2 1322.5L1238.7 1322.8L1237.7 1324.1L1236.0 1324.8L1236.2 1324.8L1234.9 1325.0L1233.7 1328.2L1232.8 1326.4L1231.4 1326.8L1230.6 1328.5L1229.1 1330.2L1228.3 1331.3L1226.4 1330.4L1225.5 1332.9L1224.5 1332.3L1222.7 1332.4L1222.2 1333.2L1220.9 1334.6L1219.5 1333.5L1218.9 1335.1L1217.5 1336.2L1216.5 1336.7L1215.3 1338.1L1214.4 1337.6L1212.6 1338.9L1211.7 1338.3L1211.2 1337.7L1209.5 1340.5L1208.8 1341.8L1207.7 1342.2L1205.3 1342.0L1204.9 1342.9L1203.6 1341.6L1202.7 1343.4L1200.9 1343.5L1199.6 1344.4L1199.0 1344.3L1197.6 1343.8L1195.9 1343.9L1195.0 1344.8L1193.8 1346.5L1192.6 1347.0L1191.5 1346.6L1190.1 1346.9L1188.5 1348.1L1187.1 1348.5L1185.5 1347.8L1185.6 1347.9L1184.2 1348.7L1182.0 1347.7L1181.5 1349.2L1179.2 1349.7L1178.5 1349.7L1177.5 1349.6L1175.3 1349.5L1174.1 1349.1L1173.3 1349.1L1171.8 1351.0L1170.3 1349.8L1169.5 1349.2L1168.1 1350.2L1167.1 1350.0L1165.8 1349.9L1164.6 1350.4L1163.2 1350.3L1161.7 1351.3L1160.5 1352.2L1159.4 1350.5L1157.6 1350.6L1156.6 1351.2L1154.5 1352.4L1154.4 1351.0L1152.8 1351.1L1150.8 1352.3L1150.3 1351.3L1148.0 1350.8L1147.5 1350.5L1146.9 1351.3L1144.2 1352.1L1143.9 1351.8L1142.2 1352.2L1141.0 1350.6L1139.9 1352.0L1138.6 1352.0L1136.6 1350.4L1135.1 1352.0L1134.3 1350.4L1132.9 1349.9L1132.8 1350.4L1130.3 1350.3L1129.6 1350.3L1127.8 1349.6L1126.9 1348.9L1126.0 1350.5L1124.9 1349.1L1122.6 1350.5L1121.3 1349.5L1120.5 1348.9L1118.6 1349.2L1117.6 1349.9L1116.2 1349.1L1115.5 1349.1L1113.4 1350.1L1112.9 1349.3L1111.8 1349.1L1110.0 1349.5L1108.8 1347.7L1107.4 1349.3L1106.1 1349.3L1104.9 1348.5L1102.8 1348.8L1102.0 1348.0L1099.8 1348.8L1099.8 1347.1L1099.1 1348.4L1096.7 1347.3L1095.7 1347.8L1094.8 1349.1L1093.4 1347.3L1091.7 1347.0L1090.6 1347.9L1089.6 1347.1L1087.7 1347.5L1086.0 1347.3L1085.3 1347.8L1084.6 1347.5L1082.4 1346.5L1081.6 1347.0L1080.3 1346.8L1077.9 1347.1L1076.5 1346.3L1075.9 1346.4L1074.8 1346.9L1074.0 1346.4L1071.7 1346.7L1071.0 1345.8L1069.5 1347.3L1068.4 1345.9L1066.9 1346.5L1065.5 1346.1L1064.0 1345.4L1062.8 1346.1L1061.9 1346.0L1059.4 1346.2L1058.7 1344.8L1058.2 1345.3L1057.2 1346.9L1055.4 1346.3L1054.2 1345.0L1053.1 1343.8L1051.6 1345.2L1049.6 1344.5L1048.8 1344.8L1047.3 1345.4L1046.4 1345.4L1044.8 1344.4L1043.3 1344.1L1042.0 1345.8L1041.2 1346.4L1039.7 1345.7L1038.8 1345.7L1036.8 1345.2L1036.6 1344.7L1034.3 1345.0L1032.5 1344.6L1032.0 1344.7L1030.3 1344.7L1029.5 1345.3L1028.1 1344.7L1027.0 1344.4L1025.2 1344.3L1023.9 1345.1L1023.6 1344.2L1020.7 1346.0L1019.6 1345.1L1018.3 1345.2L1017.8 1345.4L1016.7 1346.2L1015.3 1344.7L1013.6 1344.7L1011.6 1344.7L1010.2 1345.5L1010.0 1345.0L1007.8 1345.3L1007.4 1344.8L1006.5 1346.0L1004.7 1344.1L1003.6 1345.0L1001.9 1344.3L1000.4 1345.9L999.0 1345.3L997.5 1346.3L996.6 1345.0L996.3 1345.5L993.8 1346.0L993.0 1346.3L991.5 1346.1L989.8 1346.3L988.8 1345.3L988.0 1345.4L986.9 1347.6L985.2 1346.6L983.2 1345.9L981.9 1346.9L981.1 1346.8L979.9 1347.2L978.3 1346.9L977.1 1345.7L976.4 1347.5L974.3 1348.0L973.7 1346.6L973.2 1347.0L970.2 1347.6L970.2 1347.2L968.3 1346.4L967.6 1346.8L965.2 1347.6L964.0 1346.8L962.8 1346.6L961.8 1349.8L960.0 1348.2L959.0 1348.8L958.4 1348.1L956.2 1349.1L955.2 1349.9L954.0 1349.4L952.9 1350.0L951.7 1349.1L950.2 1349.2L948.4 1350.7L947.3 1349.0L946.7 1349.5L945.9 1348.9L943.4 1351.2L942.2 1350.4L941.3 1350.9L940.1 1351.1L938.4 1352.0L937.1 1351.3L936.0 1351.0L934.7 1351.0L933.2 1350.6L931.5 1350.9L930.5 1351.0L928.8 1351.5L927.6 1351.6L926.9 1351.3L925.6 1352.8L924.0 1351.8L922.3 1353.2L921.0 1353.1L920.4 1352.1L919.7 1352.5L917.7 1353.1L916.5 1353.5L915.6 1352.4L914.4 1354.1L913.3 1352.4L911.6 1353.1L910.9 1354.3L908.3 1352.5L907.6 1354.5L905.0 1353.6L904.7 1354.2L904.5 1352.5L902.0 1352.6L901.0 1354.2L899.5 1354.8L898.2 1353.8L896.6 1353.1L895.4 1356.0L895.2 1354.6L893.2 1355.5L891.7 1355.4L890.9 1354.3L889.9 1355.1L887.8 1355.0L886.6 1355.5L885.0 1355.1L884.2 1355.6L882.7 1356.7L881.6 1354.3L880.0 1357.2L878.8 1355.1L877.4 1354.2L875.6 1355.7L874.6 1356.3L873.4 1354.7L873.1 1356.5L871.1 1357.0L869.6 1355.8L868.2 1356.9L867.5 1356.6L865.6 1355.8L864.6 1356.8L863.0 1356.4L862.7 1356.5L860.0 1357.6L859.4 1356.7L857.5 1356.8L856.8 1356.7L855.6 1356.4L853.5 1355.4L853.0 1357.1L851.4 1357.0L850.7 1357.3L848.9 1357.8L848.1 1357.0L846.7 1357.7L844.7 1357.2L843.5 1357.6L842.8 1358.3L841.4 1356.1L840.3 1358.6L838.2 1357.4L837.7 1358.5L835.5 1357.9L834.8 1356.8L833.1 1357.4L832.5 1358.3L830.5 1356.6L829.5 1359.0L828.4 1357.9L826.4 1357.4L826.2 1358.2L824.3 1358.9L822.8 1359.0L821.0 1357.5L820.7 1358.5L819.1 1358.6L818.2 1358.2L815.9 1358.4L814.9 1359.4L813.9 1358.8L812.7 1359.3L811.4 1359.4L809.8 1358.3L808.3 1359.1L807.3 1359.3L805.7 1358.0L805.5 1358.6L803.5 1359.2L803.0 1358.1L800.9 1358.5L800.1 1358.5L798.1 1358.9L796.6 1358.9L795.6 1358.1L794.8 1357.3L792.6 1360.2L791.1 1358.8L790.5 1359.0L788.6 1359.4L787.6 1358.5L787.5 1358.8L785.2 1358.9L784.3 1358.7L783.1 1360.7L780.9 1360.3L780.1 1360.0L779.2 1360.2L776.8 1359.8L776.0 1359.5L774.9 1359.8L772.9 1360.3L772.2 1359.1L770.8 1359.9L769.7 1359.8L768.3 1360.6L766.3 1360.1L765.2 1358.5L763.5 1360.3L763.1 1360.4L761.6 1360.3L760.9 1360.0L759.3 1360.7L758.1 1360.2L756.7 1361.4L754.9 1360.4L753.7 1360.9L753.2 1359.9L750.7 1360.5L751.0 1360.6L748.4 1361.1L747.9 1360.5L746.4 1361.7L745.2 1361.4L743.9 1362.7L741.8 1361.6L741.8 1362.1L739.3 1362.4L739.1 1362.2L737.4 1361.7L736.6 1363.1L733.9 1361.3L733.6 1362.8L732.1 1362.4L731.3 1362.5L729.6 1361.4L727.9 1362.1L726.5 1362.1L725.6 1363.2L724.2 1364.6L723.1 1363.8L722.3 1363.8L720.5 1363.9L719.1 1363.9L718.2 1364.0L716.6 1364.3L715.6 1364.5L714.4 1364.4L713.0 1364.5L711.5 1366.5L709.6 1365.3L708.9 1366.1L707.3 1366.4L707.0 1366.4L704.9 1366.5L703.7 1365.6L702.7 1367.2L700.8 1366.2L699.5 1366.6L698.7 1367.3L697.4 1369.1L695.4 1369.1L695.1 1369.4L693.9 1368.9L693.1 1369.3L690.3 1369.8L690.4 1368.3L689.0 1369.7L686.9 1369.8L686.1 1370.1L684.4 1370.8L683.7 1371.4L681.7 1370.7L680.8 1370.3L679.3 1372.0L678.3 1371.9L677.3 1372.6L676.0 1373.5L674.2 1374.1L673.5 1374.1L671.8 1373.3L670.9 1374.8L669.4 1374.0L668.8 1376.3L667.7 1375.8L665.9 1375.6L664.6 1377.3L663.8 1376.3L661.3 1378.7L660.6 1378.2L659.3 1378.4L658.4 1380.6L657.2 1379.6L656.1 1379.3L655.8 1380.6L653.9 1380.9" stroke="#ff0000" stroke-width="3.6"/>
<path d="M654.5 1131.1L654.5 1129.1L654.6 1127.1L654.7 1125.1L654.8 1123.1L654.9 1121.1L654.9 1119.1L655.0 1117.1L655.1 1115.1L655.2 1113.1L655.3 1111.1L655.4 1109.1L655.5 1107.1L655.6 1105.1L655.7 1103.1L655.8 1101.1L656.0 1099.1L656.1 1097.1L656.3 1095.1L656.5 1093.1L656.6 1091.1L656.8 1089.1L657.0 1087.1L657.1 1085.1L657.3 1083.1L657.4 1081.1L657.5 1079.1L657.6 1077.1L657.7 1075.1L657.8 1073.1L657.9 1071.1L658.0 1069.1L658.1 1067.1L658.2 1065.1L658.3 1063.1L658.4 1061.1L658.5 1059.1L658.6 1057.1L658.7 1055.1L658.8 1053.1L659.0 1051.1L659.1 1049.1L659.2 1047.1L659.4 1045.1L659.6 1043.1L659.9 1041.2L660.2 1039.2L660.7 1037.2L661.2 1035.3L661.8 1033.4L662.5 1031.5L663.4 1029.7L664.5 1028.1L665.8 1026.6L667.3 1025.3L669.1 1024.3L671.0 1023.6L672.9 1023.2L674.9 1023.2L676.9 1023.4L678.9 1023.8L680.8 1024.4L682.7 1025.0L684.6 1025.8L686.4 1026.6L688.2 1027.5L690.0 1028.3L691.8 1029.2L693.6 1030.1L695.4 1031.0L697.2 1031.8L699.1 1032.5L700.9 1033.3L702.8 1034.0L704.7 1034.7L706.6 1035.4L708.5 1036.0L710.4 1036.7L712.3 1037.3L714.2 1037.9L716.1 1038.4L718.0 1038.9L720.0 1039.4L722.0 1039.8L723.9 1040.2L725.9 1040.5L727.9 1040.7L729.9 1041.0L731.9 1041.2L733.9 1041.4L735.9 1041.6L737.8 1041.8L739.8 1042.0L741.8 1042.1L743.8 1042.1L745.8 1042.2L747.8 1042.2L749.8 1042.3L751.9 1042.3L753.9 1042.4L755.9 1042.4L757.9 1042.5L759.9 1042.5L761.9 1042.5L763.9 1042.5L765.9 1042.4L767.9 1042.3L769.9 1042.3L771.9 1042.2L773.9 1042.1L775.9 1042.0L777.9 1041.8L779.9 1041.7L781.9 1041.5L783.9 1041.4L785.9 1041.2L787.9 1041.0L789.8 1040.8L791.8 1040.6L793.8 1040.4L795.8 1040.2L797.8 1039.9L799.8 1039.7L801.8 1039.4L803.8 1039.2L805.8 1038.9L807.7 1038.6L809.7 1038.3L811.7 1038.1L813.7 1037.8L815.7 1037.4L817.6 1037.1L819.6 1036.8L821.6 1036.5L823.6 1036.1L825.5 1035.8L827.5 1035.4L829.5 1035.1L831.5 1034.7L833.4 1034.4L835.4 1034.0L837.4 1033.7L839.3 1033.3L841.3 1032.9L843.3 1032.5L845.2 1032.2L847.2 1031.8L849.2 1031.4L851.1 1031.0L853.1 1030.6L855.1 1030.2L857.0 1029.8L859.0 1029.4L860.9 1029.0L862.9 1028.5L864.9 1028.1L866.8 1027.7L868.8 1027.2L870.7 1026.8L872.7 1026.4L874.6 1025.9L876.6 1025.5L878.5 1025.0L880.5 1024.5L882.4 1024.1L884.4 1023.6L886.3 1023.1L888.3 1022.7L890.2 1022.2L892.1 1021.7L894.1 1021.2L896.0 1020.7L898.0 1020.2L899.9 1019.7L901.8 1019.1L903.8 1018.6L905.7 1018.1L907.6 1017.5L909.6 1017.0L911.5 1016.5L913.4 1015.9L915.3 1015.4L917.3 1014.8L919.2 1014.2L921.1 1013.7L923.0 1013.1L925.0 1012.6L926.9 1012.0L928.8 1011.4L930.7 1010.9L932.6 1010.3L934.6 1009.7L936.5 1009.1L938.4 1008.6L940.3 1008.0L942.2 1007.4L944.1 1006.8L946.1 1006.2L948.0 1005.6L949.9 1005.0L951.8 1004.4L953.7 1003.8L955.6 1003.2L957.5 1002.6L959.4 1002.0L961.3 1001.4L963.3 1000.8L965.2 1000.2L967.1 999.7L969.0 999.1L970.9 998.5L972.8 997.9L974.7 997.3L976.7 996.7L978.6 996.1L980.5 995.5L982.4 994.9L984.3 994.3L986.2 993.7L988.1 993.1L990.0 992.5L992.0 992.0L993.9 991.4L995.8 990.8L997.7 990.2L999.6 989.6L1001.5 989.0L1003.5 988.4L1005.4 987.9L1007.3 987.3L1009.2 986.7L1011.1 986.2L1013.1 985.6L1015.0 985.1L1016.9 984.5L1018.8 984.0L1020.8 983.4L1022.7 982.8L1024.6 982.3L1026.5 981.7L1028.4 981.1L1030.3 980.5L1032.3 979.9L1034.2 979.3L1036.1 978.6L1038.0 978.0L1039.9 977.4L1041.8 976.8L1043.7 976.1L1045.6 975.5L1047.5 974.9L1049.4 974.2L1051.3 973.6L1053.2 972.9L1055.1 972.3L1056.9 971.6L1058.8 970.9L1060.7 970.3L1062.6 969.6L1064.5 969.0L1066.4 968.3L1068.3 967.7L1070.2 967.0L1072.1 966.4L1074.0 965.8L1075.9 965.2L1077.8 964.6L1079.7 964.0L1081.7 963.4L1083.6 962.9L1085.5 962.3L1087.4 961.7L1089.3 961.1L1091.3 960.6L1093.2 960.0L1095.1 959.4L1097.0 958.9L1098.9 958.3L1100.9 957.8L1102.8 957.2L1104.7 956.6L1106.6 956.1L1108.6 955.5L1110.5 955.0L1112.4 954.4L1114.3 953.8L1116.2 953.2L1118.2 952.6L1120.1 952.1L1122.0 951.5L1123.9 950.9L1125.8 950.3L1127.7 949.7L1129.6 949.1L1131.5 948.5L1133.4 947.8L1135.3 947.2L1137.2 946.6L1139.1 945.9L1141.0 945.3L1142.9 944.6L1144.8 944.0L1146.7 943.3L1148.6 942.6L1150.5 942.0L1152.4 941.3L1154.2 940.6L1156.1 939.8L1158.0 939.1L1159.8 938.3L1161.7 937.6L1163.5 936.8L1165.4 936.0L1167.2 935.2L1169.0 934.4L1170.9 933.6L1172.7 932.8L1174.5 932.0L1176.4 931.2L1178.2 930.4L1180.1 929.7L1181.9 928.9L1183.8 928.1L1185.6 927.3L1187.4 926.5L1189.3 925.8L1191.1 925.0L1193.0 924.2L1194.9 923.5L1196.7 922.7L1198.6 922.0L1200.4 921.2L1202.3 920.5L1204.2 919.8L1206.0 919.0L1207.9 918.3L1209.8 917.6L1211.6 916.9L1213.5 916.2L1215.4 915.6L1217.3 914.9L1219.2 914.3L1221.1 913.8L1223.1 913.2L1225.0 912.7L1226.9 912.1L1228.9 911.6L1230.8 911.1L1232.8 910.7L1234.7 910.3L1236.7 909.9L1238.7 909.5L1240.6 909.2L1242.6 908.9L1244.6 908.6L1246.6 908.4L1248.6 908.2L1250.6 908.0L1252.6 907.8L1254.6 907.7L1256.6 907.6L1258.6 907.5L1260.6 907.5L1262.6 907.5L1264.6 907.5L1266.6 907.5L1268.6 907.6L1270.6 907.7L1272.6 907.8L1274.6 908.0L1276.6 908.1L1278.6 908.3L1280.6 908.6L1282.5 908.8L1284.5 909.1L1286.5 909.4L1288.5 909.7L1290.4 910.1L1292.4 910.5L1294.4 911.0L1296.3 911.4L1298.3 911.9L1300.2 912.4L1302.1 912.9L1304.1 913.4L1306.0 913.9L1308.0 914.4L1309.9 914.9L1311.8 915.4L1313.8 915.9L1315.7 916.5L1317.6 917.0L1319.6 917.5L1321.5 918.1L1323.4 918.6L1325.3 919.1L1327.3 919.7L1329.2 920.2L1331.1 920.7L1333.1 921.3L1335.0 921.8L1336.9 922.3L1338.9 922.9L1340.8 923.4L1342.7 923.9L1344.7 924.4L1346.6 924.9L1348.5 925.5L1350.5 926.0L1352.4 926.5L1354.3 927.0L1356.3 927.5L1358.2 928.0L1360.2 928.5L1362.1 929.0L1364.0 929.5L1366.0 930.0L1367.9 930.5L1369.9 931.0L1371.8 931.5L1373.8 931.9L1375.7 932.4L1377.7 932.8L1379.6 933.3L1381.6 933.7L1383.5 934.1L1385.5 934.5L1387.5 934.9L1389.4 935.3L1391.4 935.7L1393.3 936.1L1395.3 936.6L1397.3 937.0L1399.2 937.4L1401.2 937.9L1403.1 938.3L1405.1 938.8L1407.0 939.2L1409.0 939.6L1410.9 940.1L1412.9 940.5L1414.8 941.0L1416.8 941.4L1418.7 941.9L1420.7 942.4L1422.6 942.8L1424.6 943.3L1426.5 943.8L1428.5 944.3L1430.4 944.8L1432.4 945.2L1434.3 945.7L1436.3 946.1L1438.2 946.6L1440.2 947.0L1442.1 947.3L1444.1 947.7L1446.1 948.1L1448.1 948.4L1450.0 948.8L1452.0 949.1L1454.0 949.4L1456.0 949.7L1457.9 950.0L1459.9 950.4L1461.9 950.7L1463.9 951.0L1465.9 951.3L1467.8 951.6L1469.8 951.9L1471.8 952.1L1473.8 952.4L1475.8 952.7L1477.8 953.0L1479.7 953.2L1481.7 953.5L1483.7 953.8L1485.7 954.0L1487.7 954.3L1489.7 954.6L1491.7 954.8L1493.6 955.1L1495.6 955.3L1497.6 955.6L1499.6 955.8L1501.6 956.0L1503.6 956.3L1505.6 956.5L1507.6 956.7L1509.6 956.9L1511.5 957.1L1513.5 957.3L1515.5 957.5L1517.5 957.7L1519.5 957.9L1521.5 958.0L1523.5 958.2L1525.5 958.4L1527.5 958.5L1529.5 958.7L1531.5 958.8L1533.5 959.0L1535.5 959.1L1537.5 959.2L1539.5 959.3L1541.5 959.5L1543.5 959.6L1545.5 959.7L1547.5 959.8L1549.5 959.9L1551.5 960.0L1553.5 960.1L1555.5 960.1L1557.5 960.2L1559.5 960.3L1561.5 960.4L1563.5 960.4L1565.5 960.5L1567.5 960.6L1569.5 960.6L1571.5 960.7L1573.5 960.7L1575.5 960.7L1577.5 960.8L1579.5 960.8L1581.5 960.8L1583.5 960.8L1585.5 960.8L1587.5 960.8L1589.5 960.8L1591.5 960.8L1593.6 960.7L1595.6 960.7L1597.6 960.7L1599.6 960.6L1601.6 960.6L1603.6 960.5L1605.6 960.5L1607.6 960.4L1609.6 960.3L1611.6 960.2L1613.6 960.1L1615.6 960.1L1617.6 960.0L1619.6 959.9L1621.6 959.7L1623.6 959.6L1625.6 959.5L1627.6 959.4L1629.6 959.3L1631.6 959.1L1633.6 959.0L1635.6 958.8L1637.6 958.7L1639.6 958.5L1641.6 958.4L1643.6 958.2L1645.5 958.1L1647.5 957.9L1649.5 957.7L1651.5 957.5L1653.5 957.4L1655.5 957.2L1657.5 957.0L1659.5 956.8L1661.5 956.6L1663.5 956.4L1665.5 956.2L1667.5 956.0L1669.5 955.8L1671.5 955.6L1673.5 955.4L1675.5 955.2L1677.5 955.0L1679.4 954.8L1681.4 954.6L1683.4 954.4L1685.4 954.2L1687.4 954.0L1689.4 953.7L1691.4 953.5L1693.4 953.3L1695.4 953.1L1697.4 952.8L1699.4 952.6L1701.3 952.4L1703.3 952.1L1705.3 951.9L1707.3 951.6L1709.3 951.4L1711.3 951.1L1713.3 950.9L1715.3 950.6L1717.2 950.3L1719.2 950.1L1721.2 949.8L1723.2 949.6L1725.2 949.3L1727.2 949.0L1729.2 948.8L1731.1 948.5L1733.1 948.3L1735.1 948.0L1737.1 947.8L1739.1 947.5L1741.1 947.3L1743.1 947.0L1745.1 946.8L1747.0 946.5L1749.0 946.3L1751.0 946.1L1753.0 945.8L1755.0 945.6L1757.0 945.3L1759.0 945.1L1761.0 944.9L1762.9 944.6L1764.9 944.4L1766.9 944.1L1768.9 943.9L1770.9 943.7L1772.9 943.4L1774.9 943.2L1776.9 942.9L1778.9 942.7L1780.9 942.5L1782.8 942.3L1784.8 942.1L1786.8 941.8L1788.8 941.6L1790.8 941.4L1792.8 941.2L1794.8 940.9L1796.7 940.5L1798.7 940.1L1798.9 941.6L1798.7 943.6L1798.5 945.6L1798.4 947.6L1798.3 949.6L1798.3 951.6L1798.2 953.6L1798.2 955.6L1798.1 957.6L1798.0 959.6L1798.0 961.6L1798.0 963.6L1798.1 965.6L1798.1 967.6L1798.1 969.7L1798.1 971.7L1798.1 973.7L1798.0 975.7L1798.0 977.7L1797.9 979.7L1797.9 981.7L1797.8 983.7L1797.7 985.7L1797.6 987.7L1797.5 989.7L1797.4 991.7L1797.3 993.7L1797.1 995.7L1797.0 997.7L1796.8 999.7L1796.6 1001.7L1796.4 1003.6L1796.2 1005.6L1795.9 1007.6L1795.7 1009.6L1795.4 1011.6L1795.2 1013.6L1794.9 1015.6L1794.6 1017.5L1794.2 1019.5L1793.9 1021.5L1793.5 1023.5L1793.2 1025.4L1792.8 1027.4L1792.3 1029.4L1791.9 1031.3L1791.5 1033.3L1791.0 1035.2L1790.5 1037.1L1790.0 1039.1L1789.4 1041.0L1788.9 1042.9L1788.3 1044.9L1787.7 1046.8L1787.1 1048.7L1786.4 1050.6L1785.7 1052.4L1785.0 1054.3L1784.3 1056.2L1783.5 1058.0L1782.7 1059.9L1781.9 1061.7L1781.1 1063.5L1780.2 1065.3L1779.3 1067.1L1778.4 1068.9L1777.4 1070.6L1776.4 1072.4L1775.4 1074.1L1774.3 1075.8L1773.2 1077.5L1772.1 1079.1L1770.9 1080.7L1769.7 1082.3L1768.5 1083.9L1767.2 1085.5L1765.9 1087.0L1764.5 1088.5L1763.2 1089.9L1761.8 1091.3L1760.3 1092.7L1758.8 1094.1L1757.3 1095.4L1755.8 1096.7L1754.3 1098.0L1752.7 1099.2L1751.1 1100.4L1749.5 1101.6L1747.8 1102.8L1746.2 1103.9L1744.5 1105.0L1742.8 1106.0L1741.1 1107.1L1739.4 1108.1L1737.6 1109.1L1735.8 1110.0L1734.1 1110.9L1732.3 1111.8L1730.5 1112.7L1728.7 1113.6L1726.9 1114.4L1725.0 1115.2L1723.2 1116.0L1721.3 1116.8L1719.5 1117.5L1717.6 1118.3L1715.7 1119.0L1713.9 1119.7L1712.0 1120.4L1710.1 1121.0L1708.2 1121.6L1706.3 1122.3L1704.4 1122.9L1702.5 1123.5L1700.5 1124.0L1698.6 1124.6L1696.7 1125.1L1694.8 1125.7L1692.8 1126.2L1690.9 1126.7L1688.9 1127.2L1687.0 1127.7L1685.0 1128.1L1683.1 1128.6L1681.1 1129.0L1679.2 1129.5L1677.2 1129.9L1675.3 1130.3L1673.3 1130.7L1671.4 1131.1L1669.4 1131.5L1667.4 1131.9L1665.5 1132.3L1663.5 1132.6L1661.5 1133.0L1659.5 1133.4L1657.6 1133.7L1655.6 1134.0L1653.6 1134.4L1651.6 1134.7L1649.7 1135.0L1647.7 1135.4L1645.7 1135.7L1643.7 1136.0L1641.8 1136.3L1639.8 1136.6L1637.8 1136.9L1635.8 1137.2L1633.8 1137.5L1631.9 1137.8L1629.9 1138.1L1627.9 1138.4L1625.9 1138.7L1623.9 1139.0L1622.0 1139.3L1620.0 1139.6L1618.0 1139.9L1616.0 1140.2L1614.0 1140.5L1612.1 1140.8L1610.1 1141.1L1608.1 1141.4L1606.1 1141.7L1604.1 1142.1L1602.2 1142.4L1600.2 1142.7L1598.2 1143.0L1596.2 1143.3L1594.2 1143.6L1592.3 1143.9L1590.3 1144.2L1588.3 1144.5L1586.3 1144.8L1584.3 1145.1L1582.4 1145.4L1580.4 1145.7L1578.4 1146.0L1576.4 1146.3L1574.4 1146.6L1572.5 1146.9L1570.5 1147.2L1568.5 1147.5L1566.5 1147.8L1564.5 1148.1L1562.6 1148.4L1560.6 1148.7L1558.6 1149.0L1556.6 1149.4L1554.6 1149.7L1552.7 1150.0L1550.7 1150.3L1548.7 1150.6L1546.7 1150.9L1544.8 1151.2L1542.8 1151.5L1540.8 1151.9L1538.8 1152.2L1536.8 1152.5L1534.9 1152.8L1532.9 1153.1L1530.9 1153.5L1528.9 1153.8L1527.0 1154.1L1525.0 1154.5L1523.0 1154.8L1521.0 1155.1L1519.1 1155.5L1517.1 1155.8L1515.1 1156.2L1513.1 1156.5L1511.2 1156.8L1509.2 1157.2L1507.2 1157.5L1505.3 1157.9L1503.3 1158.2L1501.3 1158.6L1499.3 1158.9L1497.4 1159.3L1495.4 1159.6L1493.4 1160.0L1491.4 1160.4L1489.5 1160.7L1487.5 1161.1L1485.6 1161.5L1483.6 1162.0L1481.6 1162.4L1479.7 1162.8L1477.7 1163.3L1475.8 1163.8L1473.8 1164.2L1471.9 1164.7L1470.0 1165.2L1468.0 1165.7L1466.1 1166.2L1464.1 1166.7L1462.2 1167.2L1460.3 1167.8L1458.3 1168.3L1456.4 1168.8L1454.5 1169.4L1452.6 1169.9L1450.6 1170.5L1448.7 1171.1L1446.8 1171.6L1444.9 1172.2L1442.9 1172.7L1441.0 1173.3L1439.1 1173.8L1437.2 1174.4L1435.2 1174.9L1433.3 1175.4L1431.4 1175.9L1429.4 1176.5L1427.5 1177.0L1425.6 1177.6L1423.7 1178.1L1421.7 1178.7L1419.8 1179.3L1417.9 1179.9L1416.0 1180.5L1414.1 1181.1L1412.2 1181.7L1410.3 1182.3L1408.4 1183.0L1406.5 1183.6L1404.6 1184.3L1402.7 1185.0L1400.8 1185.6L1398.9 1186.3L1397.1 1187.0L1395.2 1187.7L1393.3 1188.4L1391.4 1189.1L1389.6 1189.8L1387.7 1190.6L1385.8 1191.3L1384.0 1192.1L1382.1 1192.8L1380.3 1193.6L1378.4 1194.3L1376.6 1195.1L1374.7 1195.9L1372.9 1196.7L1371.0 1197.5L1369.2 1198.3L1367.4 1199.1L1365.6 1199.9L1363.7 1200.7L1361.9 1201.5L1360.1 1202.4L1358.3 1203.2L1356.4 1204.1L1354.6 1204.9L1352.8 1205.8L1351.0 1206.6L1349.2 1207.5L1347.4 1208.4L1345.6 1209.3L1343.8 1210.2L1342.0 1211.1L1340.3 1212.0L1338.5 1212.9L1336.7 1213.8L1334.9 1214.8L1333.2 1215.7L1331.4 1216.7L1329.7 1217.7L1327.9 1218.6L1326.2 1219.6L1324.4 1220.6L1322.7 1221.6L1321.0 1222.6L1319.3 1223.7L1317.5 1224.7L1315.8 1225.7L1314.1 1226.8L1312.4 1227.8L1310.7 1228.9L1309.0 1230.0L1307.4 1231.1L1305.7 1232.2L1304.0 1233.3L1302.3 1234.4L1300.7 1235.5L1299.0 1236.6L1297.4 1237.7L1295.7 1238.9L1294.1 1240.0L1292.4 1241.2L1290.8 1242.3L1289.1 1243.5L1287.5 1244.6L1285.9 1245.8L1284.3 1247.0L1282.6 1248.1L1281.0 1249.3L1279.4 1250.5L1277.8 1251.7L1276.1 1252.8L1274.5 1254.0L1272.9 1255.2L1271.3 1256.4L1269.7 1257.6L1268.1 1258.8L1266.5 1260.0L1264.8 1261.1L1263.2 1262.3L1261.6 1263.4L1259.9 1264.6L1258.2 1265.7L1256.6 1266.8L1254.9 1267.9L1253.3 1269.0L1251.6 1270.1L1249.9 1271.2L1248.2 1272.3L1246.5 1273.3L1244.8 1274.4L1243.1 1275.4L1241.3 1276.4L1239.6 1277.4L1237.8 1278.4L1236.1 1279.3L1234.3 1280.3L1232.5 1281.2L1230.7 1282.1L1229.0 1283.0L1227.1 1283.9L1225.3 1284.7L1223.5 1285.5L1221.6 1286.3L1219.8 1287.0L1217.9 1287.7L1216.0 1288.4L1214.1 1289.1L1212.2 1289.7L1210.3 1290.3L1208.4 1290.9L1206.5 1291.4L1204.6 1292.0L1202.6 1292.5L1200.7 1292.9L1198.7 1293.4L1196.8 1293.8L1194.8 1294.2L1192.8 1294.5L1190.8 1294.8L1188.9 1295.1L1186.9 1295.4L1184.9 1295.7L1182.9 1295.9L1180.9 1296.1L1178.9 1296.3L1176.9 1296.5L1174.9 1296.6L1172.9 1296.7L1170.9 1296.8L1168.9 1296.9L1166.9 1296.9L1164.9 1296.9L1162.9 1297.0L1160.9 1297.0L1158.9 1296.9L1156.9 1296.9L1154.9 1296.9L1152.9 1296.8L1150.9 1296.7L1148.9 1296.6L1146.9 1296.5L1144.9 1296.4L1142.9 1296.3L1140.9 1296.1L1138.9 1296.0L1136.9 1295.8L1134.9 1295.6L1132.9 1295.5L1130.9 1295.3L1128.9 1295.1L1126.9 1294.8L1124.9 1294.6L1123.0 1294.4L1121.0 1294.1L1119.0 1293.9L1117.0 1293.6L1115.0 1293.3L1113.0 1293.0L1111.0 1292.8L1109.1 1292.5L1107.1 1292.2L1105.1 1291.9L1103.1 1291.6L1101.1 1291.2L1099.2 1290.9L1097.2 1290.6L1095.2 1290.3L1093.2 1289.9L1091.3 1289.6L1089.3 1289.3L1087.3 1288.9L1085.3 1288.6L1083.4 1288.3L1081.4 1288.0L1079.4 1287.6L1077.4 1287.3L1075.5 1287.0L1073.5 1286.6L1071.5 1286.3L1069.5 1286.0L1067.6 1285.6L1065.6 1285.3L1063.6 1285.0L1061.6 1284.7L1059.7 1284.3L1057.7 1284.0L1055.7 1283.6L1053.7 1283.3L1051.8 1283.0L1049.8 1282.7L1047.8 1282.4L1045.8 1282.1L1043.8 1281.8L1041.8 1281.5L1039.9 1281.3L1037.9 1281.0L1035.9 1280.8L1033.9 1280.6L1031.9 1280.4L1029.9 1280.1L1027.9 1279.9L1025.9 1279.8L1023.9 1279.6L1021.9 1279.4L1019.9 1279.2L1017.9 1279.1L1015.9 1278.9L1013.9 1278.8L1011.9 1278.6L1009.9 1278.5L1007.9 1278.4L1005.9 1278.3L1003.9 1278.2L1001.9 1278.1L999.9 1278.0L997.9 1277.9L995.9 1277.8L993.9 1277.7L991.9 1277.7L989.9 1277.6L987.9 1277.5L985.9 1277.5L983.9 1277.4L981.9 1277.4L979.9 1277.3L977.9 1277.3L975.9 1277.3L973.9 1277.2L971.9 1277.2L969.9 1277.1L967.9 1277.1L965.9 1277.0L963.9 1277.0L961.9 1277.0L959.9 1276.9L957.9 1276.9L955.9 1276.9L953.9 1276.8L951.9 1276.8L949.9 1276.8L947.9 1276.8L945.9 1276.7L943.9 1276.7L941.9 1276.7L939.9 1276.7L937.9 1276.7L935.9 1276.7L933.9 1276.7L931.9 1276.7L929.9 1276.7L927.9 1276.7L925.9 1276.7L923.8 1276.7L921.8 1276.7L919.8 1276.7L917.8 1276.7L915.8 1276.7L913.8 1276.8L911.8 1276.8L909.8 1276.8L907.8 1276.8L905.8 1276.7L903.8 1276.7L901.8 1276.7L899.8 1276.7L897.8 1276.7L895.8 1276.7L893.8 1276.7L891.8 1276.6L889.8 1276.6L887.8 1276.6L885.8 1276.5L883.8 1276.5L881.8 1276.4L879.8 1276.4L877.8 1276.3L875.8 1276.3L873.8 1276.2L871.8 1276.2L869.8 1276.1L867.8 1276.1L865.8 1276.0L863.8 1275.9L861.8 1275.9L859.8 1275.8L857.8 1275.8L855.8 1275.7L853.8 1275.7L851.8 1275.6L849.8 1275.6L847.8 1275.5L845.7 1275.5L843.7 1275.4L841.7 1275.4L839.7 1275.3L837.7 1275.3L835.7 1275.2L833.7 1275.2L831.7 1275.1L829.7 1275.1L827.7 1275.0L825.7 1275.0L823.7 1274.9L821.7 1274.9L819.7 1274.8L817.7 1274.8L815.7 1274.8L813.7 1274.7L811.7 1274.7L809.7 1274.6L807.7 1274.6L805.7 1274.5L803.7 1274.5L801.7 1274.5L799.7 1274.4L797.7 1274.4L795.7 1274.4L793.7 1274.4L791.7 1274.4L789.7 1274.4L787.7 1274.3L785.7 1274.3L783.7 1274.4L781.7 1274.4L779.7 1274.4L777.7 1274.4L775.7 1274.5L773.7 1274.6L771.7 1274.6L769.7 1274.7L767.7 1274.8L765.7 1275.0L763.7 1275.1L761.7 1275.2L759.7 1275.4L757.7 1275.5L755.7 1275.7L753.7 1275.9L751.7 1276.1L749.7 1276.3L747.7 1276.5L745.7 1276.7L743.7 1276.9L741.7 1277.2L739.7 1277.4L737.7 1277.7L735.8 1277.9L733.8 1278.2L731.8 1278.5L729.8 1278.7L727.8 1279.0L725.8 1279.3L723.9 1279.7L721.9 1280.1L719.9 1280.5L718.0 1280.9L716.0 1281.3L714.1 1281.8L712.2 1282.4L710.2 1282.9L708.3 1283.5L706.4 1284.1L704.5 1284.7L702.6 1285.4L700.7 1286.0L698.9 1286.8L697.0 1287.5L695.2 1288.3L693.4 1289.2L691.6 1290.1L689.9 1291.2L688.2 1292.3L686.6 1293.5L685.1 1294.7L683.6 1296.1L682.1 1297.5L680.7 1298.9L679.4 1300.4L678.1 1302.0L676.9 1303.5L675.7 1305.2L674.6 1306.8L673.6 1308.5L672.5 1310.2L671.6 1312.0L670.7 1313.8L669.9 1315.6L669.1 1317.5L668.3 1319.3L667.6 1321.2L667.0 1323.1L666.4 1325.0L665.8 1326.9L665.2 1328.8L664.7 1330.8L664.1 1332.7L663.6 1334.6L663.1 1336.6L662.6 1338.5L662.1 1340.4L661.5 1342.4L661.0 1344.3L660.6 1346.3L660.1 1348.2L659.6 1350.1L659.1 1352.1L658.7 1354.0L658.2 1356.0L657.8 1358.0L657.4 1359.9L657.0 1361.9L656.6 1363.8L656.2 1365.8L655.8 1367.8L655.4 1369.7L655.0 1371.7L654.6 1373.7L654.2 1375.6" stroke="#0000ff" stroke-width="10.8"/>
</g>
<g fill="none" stroke="#000" stroke-width="5.9" stroke-linecap="round" stroke-linejoin="round">
<path d="M405.8 86.0L405.8 1494.0L2270.2 1494.0"/>
<path d="M405.8 86.00h28.0M405.8 342.00h28.0M405.8 598.00h28.0M405.8 854.00h28.0M405.8 1110.00h28.0M405.8 1366.00h28.0M405.8 214.00h14.0M405.8 470.00h14.0M405.8 726.00h14.0M405.8 982.00h14.0M405.8 1238.00h14.0M644.83 1494.0v-28.0M1122.88 1494.0v-28.0M1600.93 1494.0v-28.0M2078.98 1494.0v-28.0M883.85 1494.0v-14.0M1361.90 1494.0v-14.0M1839.95 1494.0v-14.0"/>
</g>
<g font-size="97.6">
<text x="257.76" y="107.60" textLength="116.78" lengthAdjust="spacingAndGlyphs">4.0</text>
<text x="251.91" y="363.60" textLength="123.71" lengthAdjust="spacingAndGlyphs">3.0</text>
<text x="251.91" y="619.60" textLength="123.69" lengthAdjust="spacingAndGlyphs">2.0</text>
<text x="247.41" y="875.60" textLength="127.89" lengthAdjust="spacingAndGlyphs">1.0</text>
<text x="252.36" y="1131.60" textLength="122.71" lengthAdjust="spacingAndGlyphs">0.0</text>
<text x="226.39" y="1387.60" textLength="148.52" lengthAdjust="spacingAndGlyphs">-1.0</text>
<text x="585.27" y="1591.00" textLength="116.58" lengthAdjust="spacingAndGlyphs">0.0</text>
<text x="1063.18" y="1591.00" textLength="116.27" lengthAdjust="spacingAndGlyphs">0.5</text>
<text x="1539.22" y="1591.00" textLength="119.41" lengthAdjust="spacingAndGlyphs">1.0</text>
<text x="2017.13" y="1591.00" textLength="119.10" lengthAdjust="spacingAndGlyphs">1.5</text>
</g>
<text y="1751.8" font-size="97.8" xml:space="preserve"><tspan x="1060.08" textLength="49.37" lengthAdjust="spacingAndGlyphs" font-style="italic">E</tspan> <tspan x="1137.62" textLength="127.18" lengthAdjust="spacingAndGlyphs">(V)</tspan> <tspan x="1290.92" textLength="106.35" lengthAdjust="spacingAndGlyphs" font-style="italic">vs.</tspan> <tspan x="1422.03" textLength="198.52" lengthAdjust="spacingAndGlyphs">RHE</tspan></text>
<text transform="translate(151.9 0) rotate(-90)" font-size="97.8" xml:space="preserve"><tspan x="-1007.37" y="0" textLength="24.55" lengthAdjust="spacingAndGlyphs" font-style="italic">j</tspan> <tspan x="-961.16" y="0" textLength="333.02" lengthAdjust="spacingAndGlyphs">(mA/cm</tspan><tspan x="-632.57" y="-62.5" textLength="48.00" lengthAdjust="spacingAndGlyphs" font-size="80.4">2</tspan><tspan x="-589.22" y="0" textLength="28.57" lengthAdjust="spacingAndGlyphs">)</tspan></text>
<g fill="none" stroke-linecap="round">
<path d="M601.6 506.2H783.4" stroke="#808080" stroke-width="6.8"/>
<path d="M601.6 613.9H783.4" stroke="#ff0000" stroke-width="3.6"/>
<path d="M601.6 721.9H783.4" stroke="#0000ff" stroke-width="10.8"/>
</g>
<g font-size="76.6">
<text x="801.97" y="531.6" textLength="144.63" lengthAdjust="spacingAndGlyphs">rGO</text>
<text x="802.72" y="639.8" textLength="269.70" lengthAdjust="spacingAndGlyphs">Au/rGO</text>
<text x="801.52" y="747.5" textLength="338.95" lengthAdjust="spacingAndGlyphs">PtAu/rGO</text>
</g>
</svg></body></html>
